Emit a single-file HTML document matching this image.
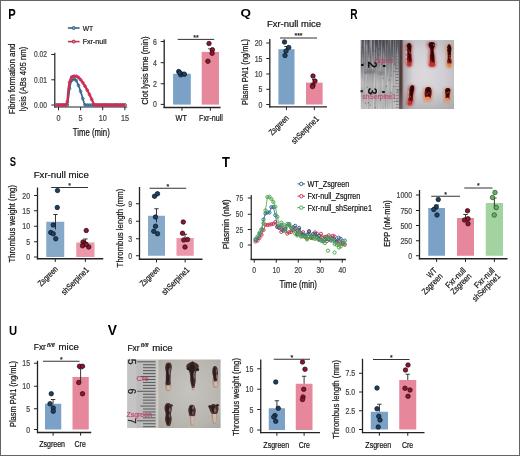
<!DOCTYPE html>
<html><head><meta charset="utf-8"><title>Figure</title><style>
html,body{margin:0;padding:0;background:#fff;}
body{width:520px;height:456px;overflow:hidden;}
svg{display:block;will-change:transform;}
text{font-family:"Liberation Sans",sans-serif;}
</style></head><body>
<svg width="520" height="456" viewBox="0 0 520 456">
<rect x="0" y="0" width="520" height="456" fill="#fff"/>
<text x="8.3" y="18.8" font-size="14.2" font-weight="bold" fill="#000" textLength="7.47" lengthAdjust="spacingAndGlyphs">P</text>
<line x1="67.9" y1="28" x2="79.6" y2="28" stroke="#2f6390" stroke-width="1.6"/>
<circle cx="73.7" cy="28" r="1.5" fill="#8fb0d0" stroke="#2a5a86" stroke-width="1"/>
<text x="82.7" y="30.6" font-size="8" textLength="10.5" lengthAdjust="spacingAndGlyphs" stroke="#333" stroke-width="0.22">WT</text>
<line x1="67.9" y1="41.6" x2="79.6" y2="41.6" stroke="#c8334f" stroke-width="1.6"/>
<circle cx="73.7" cy="41.6" r="1.5" fill="#e08898" stroke="#a82440" stroke-width="1"/>
<text x="82.7" y="44.2" font-size="8" textLength="23.8" lengthAdjust="spacingAndGlyphs" stroke="#333" stroke-width="0.22">Fxr-null</text>
<line x1="54.8" y1="52.8" x2="54.8" y2="107.6" stroke="#222" stroke-width="1.2"/>
<line x1="54.2" y1="107" x2="127.2" y2="107" stroke="#222" stroke-width="1.2"/>
<line x1="51.3" y1="54.5" x2="54.8" y2="54.5" stroke="#222" stroke-width="1"/>
<text x="46.9" y="57.4" font-size="8.5" text-anchor="end" fill="#444" textLength="12.8" lengthAdjust="spacingAndGlyphs" stroke="#444" stroke-width="0.22">0.02</text>
<line x1="51.3" y1="79.8" x2="54.8" y2="79.8" stroke="#222" stroke-width="1"/>
<text x="46.9" y="82.7" font-size="8.5" text-anchor="end" fill="#444" textLength="12.8" lengthAdjust="spacingAndGlyphs" stroke="#444" stroke-width="0.22">0.01</text>
<line x1="51.3" y1="105" x2="54.8" y2="105" stroke="#222" stroke-width="1"/>
<text x="46.9" y="107.9" font-size="8.5" text-anchor="end" fill="#444" textLength="12.8" lengthAdjust="spacingAndGlyphs" stroke="#444" stroke-width="0.22">0.00</text>
<line x1="58.5" y1="107" x2="58.5" y2="110.2" stroke="#222" stroke-width="1"/>
<text x="58.5" y="121.4" font-size="8.5" text-anchor="middle" fill="#444" textLength="4.02" lengthAdjust="spacingAndGlyphs" stroke="#444" stroke-width="0.22">0</text>
<line x1="80.6" y1="107" x2="80.6" y2="110.2" stroke="#222" stroke-width="1"/>
<text x="80.6" y="121.4" font-size="8.5" text-anchor="middle" fill="#444" textLength="4.02" lengthAdjust="spacingAndGlyphs" stroke="#444" stroke-width="0.22">5</text>
<line x1="102.7" y1="107" x2="102.7" y2="110.2" stroke="#222" stroke-width="1"/>
<text x="102.7" y="121.4" font-size="8.5" text-anchor="middle" fill="#444" textLength="8.04" lengthAdjust="spacingAndGlyphs" stroke="#444" stroke-width="0.22">10</text>
<line x1="124.9" y1="107" x2="124.9" y2="110.2" stroke="#222" stroke-width="1"/>
<text x="124.9" y="121.4" font-size="8.5" text-anchor="middle" fill="#444" textLength="8.04" lengthAdjust="spacingAndGlyphs" stroke="#444" stroke-width="0.22">15</text>
<text x="91.3" y="135.6" font-size="10" text-anchor="middle" textLength="37" lengthAdjust="spacingAndGlyphs" stroke="#333" stroke-width="0.22">Time (min)</text>
<text x="0" y="0" font-size="9" text-anchor="middle" textLength="70.6" lengthAdjust="spacingAndGlyphs" transform="translate(15.3 79) rotate(-90)" stroke="#333" stroke-width="0.22">Fibrin formation and</text>
<text x="0" y="0" font-size="9" text-anchor="middle" textLength="64.5" lengthAdjust="spacingAndGlyphs" transform="translate(25.5 79) rotate(-90)" stroke="#333" stroke-width="0.22">lysis (ABs 405 nm)</text>
<path d="M56.29 105 L57.39 105 L58.5 105 L59.61 105 L60.71 105 L61.82 105 L62.93 105 L64.03 105 L65.14 105 L66.25 105 L67.35 105 L68.46 97.42 L69.57 88.49 L70.67 83.19 L71.78 80.43 L72.89 79.3 L73.99 79.01 L75.1 79.12 L76.21 80.59 L77.31 82.73 L78.42 85.3 L79.53 88.23 L80.63 91.44 L81.74 94.92 L82.85 98.63 L83.95 102.55 L85.06 105 L86.17 105 L87.27 105 L88.38 105 L89.49 105 L90.59 105 L91.7 105 L92.81 105 L93.91 105 L95.02 105 L96.13 105 L97.23 105 L98.34 105 L99.45 105 L100.55 105 L101.66 105 L102.77 105 L103.87 105 L104.98 105 L106.09 105 L107.19 105 L108.3 105 L109.41 105 L110.51 105 L111.62 105 L112.73 105 L113.83 105 L114.94 105 L116.05 105 L117.15 105 L118.26 105 L119.37 105 L120.47 105 L121.58 105 L122.69 105 L123.79 105 L124.9 105" fill="none" stroke="#2f6390" stroke-width="1.7" stroke-linejoin="round"/>
<circle cx="56.29" cy="105" r="1.4" fill="none" stroke="#2f6390" stroke-width="0.8"/>
<circle cx="58.5" cy="105" r="1.4" fill="none" stroke="#2f6390" stroke-width="0.8"/>
<circle cx="60.71" cy="105" r="1.4" fill="none" stroke="#2f6390" stroke-width="0.8"/>
<circle cx="62.93" cy="105" r="1.4" fill="none" stroke="#2f6390" stroke-width="0.8"/>
<circle cx="65.14" cy="105" r="1.4" fill="none" stroke="#2f6390" stroke-width="0.8"/>
<circle cx="67.35" cy="105" r="1.4" fill="none" stroke="#2f6390" stroke-width="0.8"/>
<circle cx="69.57" cy="88.49" r="1.4" fill="none" stroke="#2f6390" stroke-width="0.8"/>
<circle cx="71.78" cy="80.43" r="1.4" fill="none" stroke="#2f6390" stroke-width="0.8"/>
<circle cx="73.99" cy="79.01" r="1.4" fill="none" stroke="#2f6390" stroke-width="0.8"/>
<circle cx="76.21" cy="80.59" r="1.4" fill="none" stroke="#2f6390" stroke-width="0.8"/>
<circle cx="78.42" cy="85.3" r="1.4" fill="none" stroke="#2f6390" stroke-width="0.8"/>
<circle cx="80.63" cy="91.44" r="1.4" fill="none" stroke="#2f6390" stroke-width="0.8"/>
<circle cx="82.85" cy="98.63" r="1.4" fill="none" stroke="#2f6390" stroke-width="0.8"/>
<circle cx="85.06" cy="105" r="1.4" fill="none" stroke="#2f6390" stroke-width="0.8"/>
<circle cx="87.27" cy="105" r="1.4" fill="none" stroke="#2f6390" stroke-width="0.8"/>
<circle cx="89.49" cy="105" r="1.4" fill="none" stroke="#2f6390" stroke-width="0.8"/>
<circle cx="91.7" cy="105" r="1.4" fill="none" stroke="#2f6390" stroke-width="0.8"/>
<circle cx="93.91" cy="105" r="1.4" fill="none" stroke="#2f6390" stroke-width="0.8"/>
<circle cx="96.13" cy="105" r="1.4" fill="none" stroke="#2f6390" stroke-width="0.8"/>
<circle cx="98.34" cy="105" r="1.4" fill="none" stroke="#2f6390" stroke-width="0.8"/>
<circle cx="100.55" cy="105" r="1.4" fill="none" stroke="#2f6390" stroke-width="0.8"/>
<circle cx="102.77" cy="105" r="1.4" fill="none" stroke="#2f6390" stroke-width="0.8"/>
<circle cx="104.98" cy="105" r="1.4" fill="none" stroke="#2f6390" stroke-width="0.8"/>
<circle cx="107.19" cy="105" r="1.4" fill="none" stroke="#2f6390" stroke-width="0.8"/>
<circle cx="109.41" cy="105" r="1.4" fill="none" stroke="#2f6390" stroke-width="0.8"/>
<circle cx="111.62" cy="105" r="1.4" fill="none" stroke="#2f6390" stroke-width="0.8"/>
<circle cx="113.83" cy="105" r="1.4" fill="none" stroke="#2f6390" stroke-width="0.8"/>
<circle cx="116.05" cy="105" r="1.4" fill="none" stroke="#2f6390" stroke-width="0.8"/>
<circle cx="118.26" cy="105" r="1.4" fill="none" stroke="#2f6390" stroke-width="0.8"/>
<circle cx="120.47" cy="105" r="1.4" fill="none" stroke="#2f6390" stroke-width="0.8"/>
<circle cx="122.69" cy="105" r="1.4" fill="none" stroke="#2f6390" stroke-width="0.8"/>
<circle cx="124.9" cy="105" r="1.4" fill="none" stroke="#2f6390" stroke-width="0.8"/>
<path d="M56.29 105 L57.39 105 L58.5 105 L59.61 105 L60.71 105 L61.82 105 L62.93 105 L64.03 105 L65.14 105 L66.25 105 L67.35 101.66 L68.46 89.26 L69.57 82.25 L70.67 78.64 L71.78 77.01 L72.89 76.4 L73.99 76.24 L75.1 76.22 L76.21 76.22 L77.31 76.66 L78.42 77.46 L79.53 78.51 L80.63 79.75 L81.74 81.15 L82.85 82.7 L83.95 84.39 L85.06 86.2 L86.17 88.13 L87.27 90.18 L88.38 92.32 L89.49 94.57 L90.59 96.91 L91.7 99.34 L92.81 101.86 L93.91 104.47 L95.02 105 L96.13 105 L97.23 105 L98.34 105 L99.45 105 L100.55 105 L101.66 105 L102.77 105 L103.87 105 L104.98 105 L106.09 105 L107.19 105 L108.3 105 L109.41 105 L110.51 105 L111.62 105 L112.73 105 L113.83 105 L114.94 105 L116.05 105 L117.15 105 L118.26 105 L119.37 105 L120.47 105 L121.58 105 L122.69 105 L123.79 105 L124.9 105" fill="none" stroke="#cc2f4f" stroke-width="2.3" stroke-linejoin="round"/>
<circle cx="56.29" cy="105" r="1.4" fill="none" stroke="#cc2f4f" stroke-width="0.8"/>
<circle cx="58.5" cy="105" r="1.4" fill="none" stroke="#cc2f4f" stroke-width="0.8"/>
<circle cx="60.71" cy="105" r="1.4" fill="none" stroke="#cc2f4f" stroke-width="0.8"/>
<circle cx="62.93" cy="105" r="1.4" fill="none" stroke="#cc2f4f" stroke-width="0.8"/>
<circle cx="65.14" cy="105" r="1.4" fill="none" stroke="#cc2f4f" stroke-width="0.8"/>
<circle cx="67.35" cy="101.66" r="1.4" fill="none" stroke="#cc2f4f" stroke-width="0.8"/>
<circle cx="69.57" cy="82.25" r="1.4" fill="none" stroke="#cc2f4f" stroke-width="0.8"/>
<circle cx="71.78" cy="77.01" r="1.4" fill="none" stroke="#cc2f4f" stroke-width="0.8"/>
<circle cx="73.99" cy="76.24" r="1.4" fill="none" stroke="#cc2f4f" stroke-width="0.8"/>
<circle cx="76.21" cy="76.22" r="1.4" fill="none" stroke="#cc2f4f" stroke-width="0.8"/>
<circle cx="78.42" cy="77.46" r="1.4" fill="none" stroke="#cc2f4f" stroke-width="0.8"/>
<circle cx="80.63" cy="79.75" r="1.4" fill="none" stroke="#cc2f4f" stroke-width="0.8"/>
<circle cx="82.85" cy="82.7" r="1.4" fill="none" stroke="#cc2f4f" stroke-width="0.8"/>
<circle cx="85.06" cy="86.2" r="1.4" fill="none" stroke="#cc2f4f" stroke-width="0.8"/>
<circle cx="87.27" cy="90.18" r="1.4" fill="none" stroke="#cc2f4f" stroke-width="0.8"/>
<circle cx="89.49" cy="94.57" r="1.4" fill="none" stroke="#cc2f4f" stroke-width="0.8"/>
<circle cx="91.7" cy="99.34" r="1.4" fill="none" stroke="#cc2f4f" stroke-width="0.8"/>
<circle cx="93.91" cy="104.47" r="1.4" fill="none" stroke="#cc2f4f" stroke-width="0.8"/>
<circle cx="96.13" cy="105" r="1.4" fill="none" stroke="#cc2f4f" stroke-width="0.8"/>
<circle cx="98.34" cy="105" r="1.4" fill="none" stroke="#cc2f4f" stroke-width="0.8"/>
<circle cx="100.55" cy="105" r="1.4" fill="none" stroke="#cc2f4f" stroke-width="0.8"/>
<circle cx="102.77" cy="105" r="1.4" fill="none" stroke="#cc2f4f" stroke-width="0.8"/>
<circle cx="104.98" cy="105" r="1.4" fill="none" stroke="#cc2f4f" stroke-width="0.8"/>
<circle cx="107.19" cy="105" r="1.4" fill="none" stroke="#cc2f4f" stroke-width="0.8"/>
<circle cx="109.41" cy="105" r="1.4" fill="none" stroke="#cc2f4f" stroke-width="0.8"/>
<circle cx="111.62" cy="105" r="1.4" fill="none" stroke="#cc2f4f" stroke-width="0.8"/>
<circle cx="113.83" cy="105" r="1.4" fill="none" stroke="#cc2f4f" stroke-width="0.8"/>
<circle cx="116.05" cy="105" r="1.4" fill="none" stroke="#cc2f4f" stroke-width="0.8"/>
<circle cx="118.26" cy="105" r="1.4" fill="none" stroke="#cc2f4f" stroke-width="0.8"/>
<circle cx="120.47" cy="105" r="1.4" fill="none" stroke="#cc2f4f" stroke-width="0.8"/>
<circle cx="122.69" cy="105" r="1.4" fill="none" stroke="#cc2f4f" stroke-width="0.8"/>
<circle cx="124.9" cy="105" r="1.4" fill="none" stroke="#cc2f4f" stroke-width="0.8"/>
<text x="0" y="0" font-size="9" text-anchor="middle" textLength="68.5" lengthAdjust="spacingAndGlyphs" transform="translate(147.8 70.6) rotate(-90)" stroke="#333" stroke-width="0.22">Clot lysis time (min)</text>
<line x1="164.2" y1="39.4" x2="164.2" y2="108.1" stroke="#222" stroke-width="1.3"/>
<line x1="163.6" y1="107.5" x2="220.6" y2="107.5" stroke="#222" stroke-width="1.3"/>
<line x1="160.7" y1="41.5" x2="164.2" y2="41.5" stroke="#222" stroke-width="1"/>
<text x="156.8" y="44.56" font-size="8.5" text-anchor="end" fill="#444" textLength="3.88" lengthAdjust="spacingAndGlyphs" stroke="#444" stroke-width="0.22">6</text>
<line x1="160.7" y1="62.7" x2="164.2" y2="62.7" stroke="#222" stroke-width="1"/>
<text x="156.8" y="65.76" font-size="8.5" text-anchor="end" fill="#444" textLength="3.88" lengthAdjust="spacingAndGlyphs" stroke="#444" stroke-width="0.22">4</text>
<line x1="160.7" y1="83.75" x2="164.2" y2="83.75" stroke="#222" stroke-width="1"/>
<text x="156.8" y="86.81" font-size="8.5" text-anchor="end" fill="#444" textLength="3.88" lengthAdjust="spacingAndGlyphs" stroke="#444" stroke-width="0.22">2</text>
<line x1="160.7" y1="104.4" x2="164.2" y2="104.4" stroke="#222" stroke-width="1"/>
<text x="156.8" y="107.46" font-size="8.5" text-anchor="end" fill="#444" textLength="3.88" lengthAdjust="spacingAndGlyphs" stroke="#444" stroke-width="0.22">0</text>
<rect x="173.1" y="73.75" width="17.7" height="30.85" fill="#7ba1c6"/>
<line x1="181.95" y1="107.5" x2="181.95" y2="110.7" stroke="#222" stroke-width="1"/>
<rect x="201.7" y="51.9" width="17.3" height="52.7" fill="#e6879c"/>
<line x1="210.35" y1="107.5" x2="210.35" y2="110.7" stroke="#222" stroke-width="1"/>
<line x1="210.4" y1="48.8" x2="210.4" y2="51.9" stroke="#222" stroke-width="0.9"/>
<line x1="208.2" y1="48.8" x2="212.6" y2="48.8" stroke="#222" stroke-width="0.9"/>
<line x1="181.9" y1="72.3" x2="181.9" y2="73.75" stroke="#222" stroke-width="0.9"/>
<line x1="179.7" y1="72.3" x2="184.1" y2="72.3" stroke="#222" stroke-width="0.9"/>
<circle cx="178.7" cy="71.6" r="2.25" fill="#1a4066" stroke="#111" stroke-width="0.7"/>
<circle cx="180.8" cy="74.8" r="2.25" fill="#1a4066" stroke="#111" stroke-width="0.7"/>
<circle cx="184.4" cy="74.2" r="2.25" fill="#1a4066" stroke="#111" stroke-width="0.7"/>
<circle cx="179.8" cy="72.7" r="2.25" fill="#1a4066" stroke="#111" stroke-width="0.7"/>
<circle cx="209" cy="43.5" r="2.25" fill="#99102d" stroke="#111" stroke-width="0.7"/>
<circle cx="212.4" cy="49.8" r="2.25" fill="#99102d" stroke="#111" stroke-width="0.7"/>
<circle cx="212.1" cy="53.3" r="2.25" fill="#99102d" stroke="#111" stroke-width="0.7"/>
<circle cx="207.9" cy="61.2" r="2.25" fill="#99102d" stroke="#111" stroke-width="0.7"/>
<line x1="177.7" y1="39.4" x2="214.2" y2="39.4" stroke="#333" stroke-width="1"/>
<text x="195.95" y="39.7" font-size="7" text-anchor="middle" stroke="#333" stroke-width="0.22">**</text>
<text x="181.2" y="121.4" font-size="8.5" text-anchor="middle" textLength="11.4" lengthAdjust="spacingAndGlyphs" stroke="#333" stroke-width="0.22">WT</text>
<text x="211" y="121.4" font-size="8.5" text-anchor="middle" textLength="23.8" lengthAdjust="spacingAndGlyphs" stroke="#333" stroke-width="0.22">Fxr-null</text>
<text x="240.5" y="16.67" font-size="10.67" font-weight="bold" fill="#000" textLength="10.47" lengthAdjust="spacingAndGlyphs">Q</text>
<text x="294" y="27.2" font-size="9.5" text-anchor="middle" textLength="54" lengthAdjust="spacingAndGlyphs" stroke="#333" stroke-width="0.22">Fxr-null mice</text>
<text x="0" y="0" font-size="9" text-anchor="middle" textLength="66" lengthAdjust="spacingAndGlyphs" transform="translate(248.2 72) rotate(-90)" stroke="#333" stroke-width="0.22">Plasm PAI1 (ng/mL)</text>
<line x1="269.8" y1="39" x2="269.8" y2="107.5" stroke="#222" stroke-width="1.3"/>
<line x1="269.2" y1="106.9" x2="327" y2="106.9" stroke="#222" stroke-width="1.3"/>
<line x1="266.3" y1="43" x2="269.8" y2="43" stroke="#222" stroke-width="1"/>
<text x="262.4" y="46.06" font-size="8.5" text-anchor="end" fill="#444" textLength="7.75" lengthAdjust="spacingAndGlyphs" stroke="#444" stroke-width="0.22">20</text>
<line x1="266.3" y1="58.5" x2="269.8" y2="58.5" stroke="#222" stroke-width="1"/>
<text x="262.4" y="61.56" font-size="8.5" text-anchor="end" fill="#444" textLength="7.75" lengthAdjust="spacingAndGlyphs" stroke="#444" stroke-width="0.22">15</text>
<line x1="266.3" y1="74" x2="269.8" y2="74" stroke="#222" stroke-width="1"/>
<text x="262.4" y="77.06" font-size="8.5" text-anchor="end" fill="#444" textLength="7.75" lengthAdjust="spacingAndGlyphs" stroke="#444" stroke-width="0.22">10</text>
<line x1="266.3" y1="89.3" x2="269.8" y2="89.3" stroke="#222" stroke-width="1"/>
<text x="262.4" y="92.36" font-size="8.5" text-anchor="end" fill="#444" textLength="3.88" lengthAdjust="spacingAndGlyphs" stroke="#444" stroke-width="0.22">5</text>
<line x1="266.3" y1="104.5" x2="269.8" y2="104.5" stroke="#222" stroke-width="1"/>
<text x="262.4" y="107.56" font-size="8.5" text-anchor="end" fill="#444" textLength="3.88" lengthAdjust="spacingAndGlyphs" stroke="#444" stroke-width="0.22">0</text>
<rect x="278.4" y="49.2" width="16.1" height="55.3" fill="#7ba1c6"/>
<line x1="286.45" y1="106.9" x2="286.45" y2="110.1" stroke="#222" stroke-width="1"/>
<rect x="306" y="82.6" width="16.6" height="21.9" fill="#e6879c"/>
<line x1="314.3" y1="106.9" x2="314.3" y2="110.1" stroke="#222" stroke-width="1"/>
<line x1="286.5" y1="46.5" x2="286.5" y2="49.2" stroke="#222" stroke-width="0.9"/>
<line x1="284.3" y1="46.5" x2="288.7" y2="46.5" stroke="#222" stroke-width="0.9"/>
<line x1="314.3" y1="79.5" x2="314.3" y2="82.6" stroke="#222" stroke-width="0.9"/>
<line x1="312.1" y1="79.5" x2="316.5" y2="79.5" stroke="#222" stroke-width="0.9"/>
<circle cx="284.5" cy="42" r="2.25" fill="#1a4066" stroke="#111" stroke-width="0.7"/>
<circle cx="288.75" cy="47.5" r="2.25" fill="#1a4066" stroke="#111" stroke-width="0.7"/>
<circle cx="286" cy="51" r="2.25" fill="#1a4066" stroke="#111" stroke-width="0.7"/>
<circle cx="285" cy="55.5" r="2.25" fill="#1a4066" stroke="#111" stroke-width="0.7"/>
<circle cx="313" cy="76" r="2.25" fill="#99102d" stroke="#111" stroke-width="0.7"/>
<circle cx="315" cy="81" r="2.25" fill="#99102d" stroke="#111" stroke-width="0.7"/>
<circle cx="313" cy="85" r="2.25" fill="#99102d" stroke="#111" stroke-width="0.7"/>
<circle cx="312.5" cy="86.5" r="2.25" fill="#99102d" stroke="#111" stroke-width="0.7"/>
<line x1="280" y1="38" x2="317" y2="38" stroke="#333" stroke-width="1"/>
<text x="298.5" y="38.3" font-size="7" text-anchor="middle" stroke="#333" stroke-width="0.22">***</text>
<text x="0" y="0" font-size="8.5" text-anchor="end" textLength="24.5" lengthAdjust="spacingAndGlyphs" transform="translate(289.5 118.5) rotate(-45)" stroke="#333" stroke-width="0.22">Zsgreen</text>
<text x="0" y="0" font-size="8.5" text-anchor="end" textLength="35.5" lengthAdjust="spacingAndGlyphs" transform="translate(319.5 119.5) rotate(-45)" stroke="#333" stroke-width="0.22">shSerpine1</text>
<text x="350.2" y="18.7" font-size="13.77" font-weight="bold" fill="#000" textLength="7.32" lengthAdjust="spacingAndGlyphs">R</text>
<text x="9.8" y="166.07" font-size="13.1" font-weight="bold" fill="#000" textLength="6.27" lengthAdjust="spacingAndGlyphs">S</text>
<text x="61.25" y="178.3" font-size="9.5" text-anchor="middle" textLength="55" lengthAdjust="spacingAndGlyphs" stroke="#333" stroke-width="0.22">Fxr-null mice</text>
<text x="0" y="0" font-size="9" text-anchor="middle" textLength="77.5" lengthAdjust="spacingAndGlyphs" transform="translate(14.8 223.75) rotate(-90)" stroke="#333" stroke-width="0.22">Thrombus weight (mg)</text>
<line x1="37.5" y1="187.5" x2="37.5" y2="259.35" stroke="#222" stroke-width="1.3"/>
<line x1="36.9" y1="258.75" x2="103.25" y2="258.75" stroke="#222" stroke-width="1.3"/>
<line x1="34" y1="195.5" x2="37.5" y2="195.5" stroke="#222" stroke-width="1"/>
<text x="30.1" y="198.56" font-size="8.5" text-anchor="end" fill="#444" textLength="7.75" lengthAdjust="spacingAndGlyphs" stroke="#444" stroke-width="0.22">20</text>
<line x1="34" y1="210.75" x2="37.5" y2="210.75" stroke="#222" stroke-width="1"/>
<text x="30.1" y="213.81" font-size="8.5" text-anchor="end" fill="#444" textLength="7.75" lengthAdjust="spacingAndGlyphs" stroke="#444" stroke-width="0.22">15</text>
<line x1="34" y1="226.25" x2="37.5" y2="226.25" stroke="#222" stroke-width="1"/>
<text x="30.1" y="229.31" font-size="8.5" text-anchor="end" fill="#444" textLength="7.75" lengthAdjust="spacingAndGlyphs" stroke="#444" stroke-width="0.22">10</text>
<line x1="34" y1="241.75" x2="37.5" y2="241.75" stroke="#222" stroke-width="1"/>
<text x="30.1" y="244.81" font-size="8.5" text-anchor="end" fill="#444" textLength="3.88" lengthAdjust="spacingAndGlyphs" stroke="#444" stroke-width="0.22">5</text>
<line x1="34" y1="257" x2="37.5" y2="257" stroke="#222" stroke-width="1"/>
<text x="30.1" y="260.06" font-size="8.5" text-anchor="end" fill="#444" textLength="3.88" lengthAdjust="spacingAndGlyphs" stroke="#444" stroke-width="0.22">0</text>
<rect x="46.25" y="221.75" width="18" height="35.25" fill="#86a9ca"/>
<line x1="55.25" y1="258.75" x2="55.25" y2="261.95" stroke="#222" stroke-width="1"/>
<rect x="76.25" y="242.5" width="18.25" height="14.5" fill="#ea98aa"/>
<line x1="85.38" y1="258.75" x2="85.38" y2="261.95" stroke="#222" stroke-width="1"/>
<line x1="55.5" y1="214.5" x2="55.5" y2="229.5" stroke="#222" stroke-width="0.9"/>
<line x1="53.3" y1="214.5" x2="57.7" y2="214.5" stroke="#222" stroke-width="0.9"/>
<line x1="85.4" y1="239" x2="85.4" y2="242.5" stroke="#222" stroke-width="0.9"/>
<line x1="83.2" y1="239" x2="87.6" y2="239" stroke="#222" stroke-width="0.9"/>
<circle cx="57.5" cy="190.5" r="2.25" fill="#1a4066" stroke="#111" stroke-width="0.7"/>
<circle cx="57.25" cy="207.5" r="2.25" fill="#1a4066" stroke="#111" stroke-width="0.7"/>
<circle cx="53.25" cy="225" r="2.25" fill="#1a4066" stroke="#111" stroke-width="0.7"/>
<circle cx="50.75" cy="232.5" r="2.25" fill="#1a4066" stroke="#111" stroke-width="0.7"/>
<circle cx="53.25" cy="233.75" r="2.25" fill="#1a4066" stroke="#111" stroke-width="0.7"/>
<circle cx="55.75" cy="238.75" r="2.25" fill="#1a4066" stroke="#111" stroke-width="0.7"/>
<circle cx="86.25" cy="230.5" r="2.25" fill="#99102d" stroke="#111" stroke-width="0.7"/>
<circle cx="83" cy="242" r="2.25" fill="#99102d" stroke="#111" stroke-width="0.7"/>
<circle cx="85" cy="243.75" r="2.25" fill="#99102d" stroke="#111" stroke-width="0.7"/>
<circle cx="82.5" cy="245.75" r="2.25" fill="#99102d" stroke="#111" stroke-width="0.7"/>
<circle cx="88.75" cy="247" r="2.25" fill="#99102d" stroke="#111" stroke-width="0.7"/>
<circle cx="86.25" cy="244.5" r="2.25" fill="#99102d" stroke="#111" stroke-width="0.7"/>
<line x1="51.25" y1="187.5" x2="88" y2="187.5" stroke="#333" stroke-width="1"/>
<text x="69.62" y="187.8" font-size="7" text-anchor="middle" stroke="#333" stroke-width="0.22">*</text>
<text x="0" y="0" font-size="8.5" text-anchor="end" textLength="24.5" lengthAdjust="spacingAndGlyphs" transform="translate(58.5 269.5) rotate(-45)" stroke="#333" stroke-width="0.22">Zsgreen</text>
<text x="0" y="0" font-size="8.5" text-anchor="end" textLength="35.5" lengthAdjust="spacingAndGlyphs" transform="translate(89.5 270.5) rotate(-45)" stroke="#333" stroke-width="0.22">shSerpine1</text>
<text x="0" y="0" font-size="9" text-anchor="middle" textLength="78.75" lengthAdjust="spacingAndGlyphs" transform="translate(122.8 228) rotate(-90)" stroke="#333" stroke-width="0.22">Thrombus length (mm)</text>
<line x1="139.5" y1="187" x2="139.5" y2="259.85" stroke="#222" stroke-width="1.3"/>
<line x1="138.9" y1="259.25" x2="202.5" y2="259.25" stroke="#222" stroke-width="1.3"/>
<line x1="136" y1="203.75" x2="139.5" y2="203.75" stroke="#222" stroke-width="1"/>
<text x="132.1" y="206.81" font-size="8.5" text-anchor="end" fill="#444" textLength="3.88" lengthAdjust="spacingAndGlyphs" stroke="#444" stroke-width="0.22">9</text>
<line x1="136" y1="221.25" x2="139.5" y2="221.25" stroke="#222" stroke-width="1"/>
<text x="132.1" y="224.31" font-size="8.5" text-anchor="end" fill="#444" textLength="3.88" lengthAdjust="spacingAndGlyphs" stroke="#444" stroke-width="0.22">6</text>
<line x1="136" y1="238.75" x2="139.5" y2="238.75" stroke="#222" stroke-width="1"/>
<text x="132.1" y="241.81" font-size="8.5" text-anchor="end" fill="#444" textLength="3.88" lengthAdjust="spacingAndGlyphs" stroke="#444" stroke-width="0.22">3</text>
<line x1="136" y1="255.75" x2="139.5" y2="255.75" stroke="#222" stroke-width="1"/>
<text x="132.1" y="258.81" font-size="8.5" text-anchor="end" fill="#444" textLength="3.88" lengthAdjust="spacingAndGlyphs" stroke="#444" stroke-width="0.22">0</text>
<rect x="148" y="215.75" width="17" height="40" fill="#86a9ca"/>
<line x1="156.5" y1="259.25" x2="156.5" y2="262.45" stroke="#222" stroke-width="1"/>
<rect x="176.5" y="238" width="17.25" height="17.75" fill="#ea98aa"/>
<line x1="185.12" y1="259.25" x2="185.12" y2="262.45" stroke="#222" stroke-width="1"/>
<line x1="156.5" y1="208.75" x2="156.5" y2="222.5" stroke="#222" stroke-width="0.9"/>
<line x1="154.3" y1="208.75" x2="158.7" y2="208.75" stroke="#222" stroke-width="0.9"/>
<line x1="185" y1="234.25" x2="185" y2="238" stroke="#222" stroke-width="0.9"/>
<line x1="182.8" y1="234.25" x2="187.2" y2="234.25" stroke="#222" stroke-width="0.9"/>
<circle cx="154.5" cy="196.25" r="2.25" fill="#1a4066" stroke="#111" stroke-width="0.7"/>
<circle cx="157.5" cy="193.75" r="2.25" fill="#1a4066" stroke="#111" stroke-width="0.7"/>
<circle cx="155.5" cy="217" r="2.25" fill="#1a4066" stroke="#111" stroke-width="0.7"/>
<circle cx="155.5" cy="226.25" r="2.25" fill="#1a4066" stroke="#111" stroke-width="0.7"/>
<circle cx="153.75" cy="231.25" r="2.25" fill="#1a4066" stroke="#111" stroke-width="0.7"/>
<circle cx="157.5" cy="233.75" r="2.25" fill="#1a4066" stroke="#111" stroke-width="0.7"/>
<circle cx="183.25" cy="222" r="2.25" fill="#99102d" stroke="#111" stroke-width="0.7"/>
<circle cx="182.5" cy="233.25" r="2.25" fill="#99102d" stroke="#111" stroke-width="0.7"/>
<circle cx="187.5" cy="239.5" r="2.25" fill="#99102d" stroke="#111" stroke-width="0.7"/>
<circle cx="183.75" cy="240" r="2.25" fill="#99102d" stroke="#111" stroke-width="0.7"/>
<circle cx="185" cy="247" r="2.25" fill="#99102d" stroke="#111" stroke-width="0.7"/>
<line x1="149.5" y1="188.25" x2="186.25" y2="188.25" stroke="#333" stroke-width="1"/>
<text x="167.88" y="188.55" font-size="7" text-anchor="middle" stroke="#333" stroke-width="0.22">*</text>
<text x="0" y="0" font-size="8.5" text-anchor="end" textLength="24.5" lengthAdjust="spacingAndGlyphs" transform="translate(160.5 269.5) rotate(-45)" stroke="#333" stroke-width="0.22">Zsgreen</text>
<text x="0" y="0" font-size="8.5" text-anchor="end" textLength="35.5" lengthAdjust="spacingAndGlyphs" transform="translate(190 270.5) rotate(-45)" stroke="#333" stroke-width="0.22">shSerpine1</text>
<text x="222" y="166.6" font-size="13.91" font-weight="bold" fill="#000" textLength="7.91" lengthAdjust="spacingAndGlyphs">T</text>
<text x="0" y="0" font-size="9.5" text-anchor="middle" textLength="50" lengthAdjust="spacingAndGlyphs" transform="translate(229.2 224.3) rotate(-90)" stroke="#333" stroke-width="0.22">Plasmin (nM)</text>
<line x1="251.25" y1="195" x2="251.25" y2="260.1" stroke="#222" stroke-width="1.2"/>
<line x1="250.65" y1="259.5" x2="346" y2="259.5" stroke="#222" stroke-width="1.3"/>
<line x1="247.75" y1="198" x2="251.25" y2="198" stroke="#222" stroke-width="1"/>
<text x="243" y="201.1" font-size="8.5" text-anchor="end" fill="#444" textLength="7.18" lengthAdjust="spacingAndGlyphs" stroke="#444" stroke-width="0.22">75</text>
<line x1="247.75" y1="214.25" x2="251.25" y2="214.25" stroke="#222" stroke-width="1"/>
<text x="243" y="217.35" font-size="8.5" text-anchor="end" fill="#444" textLength="7.18" lengthAdjust="spacingAndGlyphs" stroke="#444" stroke-width="0.22">50</text>
<line x1="247.75" y1="229.5" x2="251.25" y2="229.5" stroke="#222" stroke-width="1"/>
<text x="243" y="232.6" font-size="8.5" text-anchor="end" fill="#444" textLength="7.18" lengthAdjust="spacingAndGlyphs" stroke="#444" stroke-width="0.22">25</text>
<line x1="247.75" y1="245" x2="251.25" y2="245" stroke="#222" stroke-width="1"/>
<text x="243" y="248.1" font-size="8.5" text-anchor="end" fill="#444" textLength="3.59" lengthAdjust="spacingAndGlyphs" stroke="#444" stroke-width="0.22">0</text>
<line x1="254.25" y1="259.5" x2="254.25" y2="262.7" stroke="#222" stroke-width="1"/>
<text x="254.25" y="273.2" font-size="8.5" text-anchor="middle" fill="#444" textLength="3.78" lengthAdjust="spacingAndGlyphs" stroke="#444" stroke-width="0.22">0</text>
<line x1="276.25" y1="259.5" x2="276.25" y2="262.7" stroke="#222" stroke-width="1"/>
<text x="276.25" y="273.2" font-size="8.5" text-anchor="middle" fill="#444" textLength="7.56" lengthAdjust="spacingAndGlyphs" stroke="#444" stroke-width="0.22">10</text>
<line x1="298.25" y1="259.5" x2="298.25" y2="262.7" stroke="#222" stroke-width="1"/>
<text x="298.25" y="273.2" font-size="8.5" text-anchor="middle" fill="#444" textLength="7.56" lengthAdjust="spacingAndGlyphs" stroke="#444" stroke-width="0.22">20</text>
<line x1="320.25" y1="259.5" x2="320.25" y2="262.7" stroke="#222" stroke-width="1"/>
<text x="320.25" y="273.2" font-size="8.5" text-anchor="middle" fill="#444" textLength="7.56" lengthAdjust="spacingAndGlyphs" stroke="#444" stroke-width="0.22">30</text>
<line x1="342.25" y1="259.5" x2="342.25" y2="262.7" stroke="#222" stroke-width="1"/>
<text x="342.25" y="273.2" font-size="8.5" text-anchor="middle" fill="#444" textLength="7.56" lengthAdjust="spacingAndGlyphs" stroke="#444" stroke-width="0.22">40</text>
<text x="298.25" y="287.5" font-size="10" text-anchor="middle" textLength="37.5" lengthAdjust="spacingAndGlyphs" stroke="#333" stroke-width="0.22">Time (min)</text>
<line x1="297.5" y1="183.9" x2="305" y2="183.9" stroke="#2f6390" stroke-width="1"/>
<circle cx="301.3" cy="183.9" r="1.7" fill="#fff" stroke="#2f6390" stroke-width="1"/>
<text x="307.4" y="187.1" font-size="9" textLength="42" lengthAdjust="spacingAndGlyphs" stroke="#333" stroke-width="0.22">WT_Zsgreen</text>
<line x1="297.5" y1="196.2" x2="305" y2="196.2" stroke="#c8334f" stroke-width="1"/>
<circle cx="301.3" cy="196.2" r="1.7" fill="#fff" stroke="#c8334f" stroke-width="1"/>
<text x="307.4" y="199.4" font-size="9" textLength="53" lengthAdjust="spacingAndGlyphs" stroke="#333" stroke-width="0.22">Fxr-null_Zsgrren</text>
<line x1="297.5" y1="207.6" x2="305" y2="207.6" stroke="#4aa34a" stroke-width="1"/>
<circle cx="301.3" cy="207.6" r="1.7" fill="#fff" stroke="#4aa34a" stroke-width="1"/>
<text x="307.4" y="210.8" font-size="9" textLength="64.5" lengthAdjust="spacingAndGlyphs" stroke="#333" stroke-width="0.22">Fxr-null_shSerpine1</text>
<path d="M255.57 241.55 L257.55 240.49 L259.53 237.96 L261.51 234.88 L263.49 230.05 L265.47 224.72 L267.45 225 L269.43 224.62 L271.41 224.22 L273.39 223.93 L275.37 222.11 L277.35 227.11 L279.33 227.96 L281.31 231.93 L283.29 229.23 L285.27 228.76 L287.25 233.61 L289.23 232.24 L291.21 232.01 L293.19 227.1 L295.17 228.8 L297.15 234.3 L299.13 229.67 L301.11 235.6 L303.09 232.26 L305.07 236.82 L307.05 238.41 L309.03 231.88 L311.01 237.84 L312.99 238.25 L314.97 232.42 L316.95 233.74 L318.93 238.91 L320.91 233.83 L322.89 237.61 L324.87 236.82 L326.85 241.01 L328.83 235.35 L330.81 237.73 L332.79 235.78 L334.77 236.65 L336.75 241.78 L338.73 241.56 L340.71 243.43 L342.69 243.88 L344.67 244.78" fill="none" stroke="#c8334f" stroke-width="0.9" stroke-linejoin="round" opacity="0.9"/>
<circle cx="255.57" cy="241.55" r="1.6" fill="none" stroke="#c8334f" stroke-width="0.95"/>
<circle cx="257.55" cy="240.49" r="1.6" fill="none" stroke="#c8334f" stroke-width="0.95"/>
<circle cx="259.53" cy="237.96" r="1.6" fill="none" stroke="#c8334f" stroke-width="0.95"/>
<circle cx="261.51" cy="234.88" r="1.6" fill="none" stroke="#c8334f" stroke-width="0.95"/>
<circle cx="263.49" cy="230.05" r="1.6" fill="none" stroke="#c8334f" stroke-width="0.95"/>
<circle cx="265.47" cy="224.72" r="1.6" fill="none" stroke="#c8334f" stroke-width="0.95"/>
<circle cx="267.45" cy="225" r="1.6" fill="none" stroke="#c8334f" stroke-width="0.95"/>
<circle cx="269.43" cy="224.62" r="1.6" fill="none" stroke="#c8334f" stroke-width="0.95"/>
<circle cx="271.41" cy="224.22" r="1.6" fill="none" stroke="#c8334f" stroke-width="0.95"/>
<circle cx="273.39" cy="223.93" r="1.6" fill="none" stroke="#c8334f" stroke-width="0.95"/>
<circle cx="275.37" cy="222.11" r="1.6" fill="none" stroke="#c8334f" stroke-width="0.95"/>
<circle cx="277.35" cy="227.11" r="1.6" fill="none" stroke="#c8334f" stroke-width="0.95"/>
<circle cx="279.33" cy="227.96" r="1.6" fill="none" stroke="#c8334f" stroke-width="0.95"/>
<circle cx="281.31" cy="231.93" r="1.6" fill="none" stroke="#c8334f" stroke-width="0.95"/>
<circle cx="283.29" cy="229.23" r="1.6" fill="none" stroke="#c8334f" stroke-width="0.95"/>
<circle cx="285.27" cy="228.76" r="1.6" fill="none" stroke="#c8334f" stroke-width="0.95"/>
<circle cx="287.25" cy="233.61" r="1.6" fill="none" stroke="#c8334f" stroke-width="0.95"/>
<circle cx="289.23" cy="232.24" r="1.6" fill="none" stroke="#c8334f" stroke-width="0.95"/>
<circle cx="291.21" cy="232.01" r="1.6" fill="none" stroke="#c8334f" stroke-width="0.95"/>
<circle cx="293.19" cy="227.1" r="1.6" fill="none" stroke="#c8334f" stroke-width="0.95"/>
<circle cx="295.17" cy="228.8" r="1.6" fill="none" stroke="#c8334f" stroke-width="0.95"/>
<circle cx="297.15" cy="234.3" r="1.6" fill="none" stroke="#c8334f" stroke-width="0.95"/>
<circle cx="299.13" cy="229.67" r="1.6" fill="none" stroke="#c8334f" stroke-width="0.95"/>
<circle cx="301.11" cy="235.6" r="1.6" fill="none" stroke="#c8334f" stroke-width="0.95"/>
<circle cx="303.09" cy="232.26" r="1.6" fill="none" stroke="#c8334f" stroke-width="0.95"/>
<circle cx="305.07" cy="236.82" r="1.6" fill="none" stroke="#c8334f" stroke-width="0.95"/>
<circle cx="307.05" cy="238.41" r="1.6" fill="none" stroke="#c8334f" stroke-width="0.95"/>
<circle cx="309.03" cy="231.88" r="1.6" fill="none" stroke="#c8334f" stroke-width="0.95"/>
<circle cx="311.01" cy="237.84" r="1.6" fill="none" stroke="#c8334f" stroke-width="0.95"/>
<circle cx="312.99" cy="238.25" r="1.6" fill="none" stroke="#c8334f" stroke-width="0.95"/>
<circle cx="314.97" cy="232.42" r="1.6" fill="none" stroke="#c8334f" stroke-width="0.95"/>
<circle cx="316.95" cy="233.74" r="1.6" fill="none" stroke="#c8334f" stroke-width="0.95"/>
<circle cx="318.93" cy="238.91" r="1.6" fill="none" stroke="#c8334f" stroke-width="0.95"/>
<circle cx="320.91" cy="233.83" r="1.6" fill="none" stroke="#c8334f" stroke-width="0.95"/>
<circle cx="322.89" cy="237.61" r="1.6" fill="none" stroke="#c8334f" stroke-width="0.95"/>
<circle cx="324.87" cy="236.82" r="1.6" fill="none" stroke="#c8334f" stroke-width="0.95"/>
<circle cx="326.85" cy="241.01" r="1.6" fill="none" stroke="#c8334f" stroke-width="0.95"/>
<circle cx="328.83" cy="235.35" r="1.6" fill="none" stroke="#c8334f" stroke-width="0.95"/>
<circle cx="330.81" cy="237.73" r="1.6" fill="none" stroke="#c8334f" stroke-width="0.95"/>
<circle cx="332.79" cy="235.78" r="1.6" fill="none" stroke="#c8334f" stroke-width="0.95"/>
<circle cx="334.77" cy="236.65" r="1.6" fill="none" stroke="#c8334f" stroke-width="0.95"/>
<circle cx="336.75" cy="241.78" r="1.6" fill="none" stroke="#c8334f" stroke-width="0.95"/>
<circle cx="338.73" cy="241.56" r="1.6" fill="none" stroke="#c8334f" stroke-width="0.95"/>
<circle cx="340.71" cy="243.43" r="1.6" fill="none" stroke="#c8334f" stroke-width="0.95"/>
<circle cx="342.69" cy="243.88" r="1.6" fill="none" stroke="#c8334f" stroke-width="0.95"/>
<circle cx="344.67" cy="244.78" r="1.6" fill="none" stroke="#c8334f" stroke-width="0.95"/>
<path d="M255.57 239.94 L257.55 238.14 L259.53 233.81 L261.51 229.45 L263.49 219.62 L265.47 213.4 L267.45 212.44 L269.43 212.52 L271.41 207.16 L273.39 207.11 L275.37 215.23 L277.35 226.4 L279.33 227.57 L281.31 225.29 L283.29 230.64 L285.27 229.46 L287.25 225.79 L289.23 223.93 L291.21 227.7 L293.19 229.92 L295.17 225.83 L297.15 233.97 L299.13 227.92 L301.11 233.12 L303.09 234.86 L305.07 235.64 L307.05 234.65 L309.03 231.08 L311.01 236.82 L312.99 234.12 L314.97 234.22 L316.95 236.95 L318.93 236.09 L320.91 240.56 L322.89 241.01 L324.87 240.24 L326.85 236.79 L328.83 239.28 L330.81 240.5 L332.79 238.57 L334.77 239.93 L336.75 241.46 L338.73 237.76 L340.71 238.91 L342.69 242.99 L344.67 240.63" fill="none" stroke="#2f6390" stroke-width="0.9" stroke-linejoin="round" opacity="0.9"/>
<circle cx="255.57" cy="239.94" r="1.6" fill="none" stroke="#2f6390" stroke-width="0.95"/>
<circle cx="257.55" cy="238.14" r="1.6" fill="none" stroke="#2f6390" stroke-width="0.95"/>
<circle cx="259.53" cy="233.81" r="1.6" fill="none" stroke="#2f6390" stroke-width="0.95"/>
<circle cx="261.51" cy="229.45" r="1.6" fill="none" stroke="#2f6390" stroke-width="0.95"/>
<circle cx="263.49" cy="219.62" r="1.6" fill="none" stroke="#2f6390" stroke-width="0.95"/>
<circle cx="265.47" cy="213.4" r="1.6" fill="none" stroke="#2f6390" stroke-width="0.95"/>
<circle cx="267.45" cy="212.44" r="1.6" fill="none" stroke="#2f6390" stroke-width="0.95"/>
<circle cx="269.43" cy="212.52" r="1.6" fill="none" stroke="#2f6390" stroke-width="0.95"/>
<circle cx="271.41" cy="207.16" r="1.6" fill="none" stroke="#2f6390" stroke-width="0.95"/>
<circle cx="273.39" cy="207.11" r="1.6" fill="none" stroke="#2f6390" stroke-width="0.95"/>
<circle cx="275.37" cy="215.23" r="1.6" fill="none" stroke="#2f6390" stroke-width="0.95"/>
<circle cx="277.35" cy="226.4" r="1.6" fill="none" stroke="#2f6390" stroke-width="0.95"/>
<circle cx="279.33" cy="227.57" r="1.6" fill="none" stroke="#2f6390" stroke-width="0.95"/>
<circle cx="281.31" cy="225.29" r="1.6" fill="none" stroke="#2f6390" stroke-width="0.95"/>
<circle cx="283.29" cy="230.64" r="1.6" fill="none" stroke="#2f6390" stroke-width="0.95"/>
<circle cx="285.27" cy="229.46" r="1.6" fill="none" stroke="#2f6390" stroke-width="0.95"/>
<circle cx="287.25" cy="225.79" r="1.6" fill="none" stroke="#2f6390" stroke-width="0.95"/>
<circle cx="289.23" cy="223.93" r="1.6" fill="none" stroke="#2f6390" stroke-width="0.95"/>
<circle cx="291.21" cy="227.7" r="1.6" fill="none" stroke="#2f6390" stroke-width="0.95"/>
<circle cx="293.19" cy="229.92" r="1.6" fill="none" stroke="#2f6390" stroke-width="0.95"/>
<circle cx="295.17" cy="225.83" r="1.6" fill="none" stroke="#2f6390" stroke-width="0.95"/>
<circle cx="297.15" cy="233.97" r="1.6" fill="none" stroke="#2f6390" stroke-width="0.95"/>
<circle cx="299.13" cy="227.92" r="1.6" fill="none" stroke="#2f6390" stroke-width="0.95"/>
<circle cx="301.11" cy="233.12" r="1.6" fill="none" stroke="#2f6390" stroke-width="0.95"/>
<circle cx="303.09" cy="234.86" r="1.6" fill="none" stroke="#2f6390" stroke-width="0.95"/>
<circle cx="305.07" cy="235.64" r="1.6" fill="none" stroke="#2f6390" stroke-width="0.95"/>
<circle cx="307.05" cy="234.65" r="1.6" fill="none" stroke="#2f6390" stroke-width="0.95"/>
<circle cx="309.03" cy="231.08" r="1.6" fill="none" stroke="#2f6390" stroke-width="0.95"/>
<circle cx="311.01" cy="236.82" r="1.6" fill="none" stroke="#2f6390" stroke-width="0.95"/>
<circle cx="312.99" cy="234.12" r="1.6" fill="none" stroke="#2f6390" stroke-width="0.95"/>
<circle cx="314.97" cy="234.22" r="1.6" fill="none" stroke="#2f6390" stroke-width="0.95"/>
<circle cx="316.95" cy="236.95" r="1.6" fill="none" stroke="#2f6390" stroke-width="0.95"/>
<circle cx="318.93" cy="236.09" r="1.6" fill="none" stroke="#2f6390" stroke-width="0.95"/>
<circle cx="320.91" cy="240.56" r="1.6" fill="none" stroke="#2f6390" stroke-width="0.95"/>
<circle cx="322.89" cy="241.01" r="1.6" fill="none" stroke="#2f6390" stroke-width="0.95"/>
<circle cx="324.87" cy="240.24" r="1.6" fill="none" stroke="#2f6390" stroke-width="0.95"/>
<circle cx="326.85" cy="236.79" r="1.6" fill="none" stroke="#2f6390" stroke-width="0.95"/>
<circle cx="328.83" cy="239.28" r="1.6" fill="none" stroke="#2f6390" stroke-width="0.95"/>
<circle cx="330.81" cy="240.5" r="1.6" fill="none" stroke="#2f6390" stroke-width="0.95"/>
<circle cx="332.79" cy="238.57" r="1.6" fill="none" stroke="#2f6390" stroke-width="0.95"/>
<circle cx="334.77" cy="239.93" r="1.6" fill="none" stroke="#2f6390" stroke-width="0.95"/>
<circle cx="336.75" cy="241.46" r="1.6" fill="none" stroke="#2f6390" stroke-width="0.95"/>
<circle cx="338.73" cy="237.76" r="1.6" fill="none" stroke="#2f6390" stroke-width="0.95"/>
<circle cx="340.71" cy="238.91" r="1.6" fill="none" stroke="#2f6390" stroke-width="0.95"/>
<circle cx="342.69" cy="242.99" r="1.6" fill="none" stroke="#2f6390" stroke-width="0.95"/>
<circle cx="344.67" cy="240.63" r="1.6" fill="none" stroke="#2f6390" stroke-width="0.95"/>
<path d="M255.57 238.95 L257.55 236.43 L259.53 232.67 L261.51 229.59 L263.49 223.26 L265.47 210.37 L267.45 197.03 L269.43 196.65 L271.41 199.01 L273.39 202.04 L275.37 206.7 L277.35 216.83 L279.33 226.19 L281.31 222.74 L283.29 224.79 L285.27 230.85 L287.25 223.94 L289.23 224.84 L291.21 228.08 L293.19 229.1 L295.17 233.53 L297.15 235.4 L299.13 231.98 L301.11 236.65 L303.09 236.43 L305.07 236.86 L307.05 239.43 L309.03 236.74 L311.01 237.78 L312.99 235.35 L314.97 238.83 L316.95 238.45 L318.93 240.02 L320.91 239.12 L322.89 241.21 L324.87 243.08 L326.85 237.5 L328.83 237.8 L330.81 239.35 L332.79 240.71 L334.77 244.07 L336.75 244.88 L338.73 244.51 L340.71 246.41 L342.69 240.85 L344.67 243.93" fill="none" stroke="#4aa34a" stroke-width="0.9" stroke-linejoin="round" opacity="0.9"/>
<circle cx="255.57" cy="238.95" r="1.6" fill="none" stroke="#4aa34a" stroke-width="0.95"/>
<circle cx="257.55" cy="236.43" r="1.6" fill="none" stroke="#4aa34a" stroke-width="0.95"/>
<circle cx="259.53" cy="232.67" r="1.6" fill="none" stroke="#4aa34a" stroke-width="0.95"/>
<circle cx="261.51" cy="229.59" r="1.6" fill="none" stroke="#4aa34a" stroke-width="0.95"/>
<circle cx="263.49" cy="223.26" r="1.6" fill="none" stroke="#4aa34a" stroke-width="0.95"/>
<circle cx="265.47" cy="210.37" r="1.6" fill="none" stroke="#4aa34a" stroke-width="0.95"/>
<circle cx="267.45" cy="197.03" r="1.6" fill="none" stroke="#4aa34a" stroke-width="0.95"/>
<circle cx="269.43" cy="196.65" r="1.6" fill="none" stroke="#4aa34a" stroke-width="0.95"/>
<circle cx="271.41" cy="199.01" r="1.6" fill="none" stroke="#4aa34a" stroke-width="0.95"/>
<circle cx="273.39" cy="202.04" r="1.6" fill="none" stroke="#4aa34a" stroke-width="0.95"/>
<circle cx="275.37" cy="206.7" r="1.6" fill="none" stroke="#4aa34a" stroke-width="0.95"/>
<circle cx="277.35" cy="216.83" r="1.6" fill="none" stroke="#4aa34a" stroke-width="0.95"/>
<circle cx="279.33" cy="226.19" r="1.6" fill="none" stroke="#4aa34a" stroke-width="0.95"/>
<circle cx="281.31" cy="222.74" r="1.6" fill="none" stroke="#4aa34a" stroke-width="0.95"/>
<circle cx="283.29" cy="224.79" r="1.6" fill="none" stroke="#4aa34a" stroke-width="0.95"/>
<circle cx="285.27" cy="230.85" r="1.6" fill="none" stroke="#4aa34a" stroke-width="0.95"/>
<circle cx="287.25" cy="223.94" r="1.6" fill="none" stroke="#4aa34a" stroke-width="0.95"/>
<circle cx="289.23" cy="224.84" r="1.6" fill="none" stroke="#4aa34a" stroke-width="0.95"/>
<circle cx="291.21" cy="228.08" r="1.6" fill="none" stroke="#4aa34a" stroke-width="0.95"/>
<circle cx="293.19" cy="229.1" r="1.6" fill="none" stroke="#4aa34a" stroke-width="0.95"/>
<circle cx="295.17" cy="233.53" r="1.6" fill="none" stroke="#4aa34a" stroke-width="0.95"/>
<circle cx="297.15" cy="235.4" r="1.6" fill="none" stroke="#4aa34a" stroke-width="0.95"/>
<circle cx="299.13" cy="231.98" r="1.6" fill="none" stroke="#4aa34a" stroke-width="0.95"/>
<circle cx="301.11" cy="236.65" r="1.6" fill="none" stroke="#4aa34a" stroke-width="0.95"/>
<circle cx="303.09" cy="236.43" r="1.6" fill="none" stroke="#4aa34a" stroke-width="0.95"/>
<circle cx="305.07" cy="236.86" r="1.6" fill="none" stroke="#4aa34a" stroke-width="0.95"/>
<circle cx="307.05" cy="239.43" r="1.6" fill="none" stroke="#4aa34a" stroke-width="0.95"/>
<circle cx="309.03" cy="236.74" r="1.6" fill="none" stroke="#4aa34a" stroke-width="0.95"/>
<circle cx="311.01" cy="237.78" r="1.6" fill="none" stroke="#4aa34a" stroke-width="0.95"/>
<circle cx="312.99" cy="235.35" r="1.6" fill="none" stroke="#4aa34a" stroke-width="0.95"/>
<circle cx="314.97" cy="238.83" r="1.6" fill="none" stroke="#4aa34a" stroke-width="0.95"/>
<circle cx="316.95" cy="238.45" r="1.6" fill="none" stroke="#4aa34a" stroke-width="0.95"/>
<circle cx="318.93" cy="240.02" r="1.6" fill="none" stroke="#4aa34a" stroke-width="0.95"/>
<circle cx="320.91" cy="239.12" r="1.6" fill="none" stroke="#4aa34a" stroke-width="0.95"/>
<circle cx="322.89" cy="241.21" r="1.6" fill="none" stroke="#4aa34a" stroke-width="0.95"/>
<circle cx="324.87" cy="243.08" r="1.6" fill="none" stroke="#4aa34a" stroke-width="0.95"/>
<circle cx="326.85" cy="237.5" r="1.6" fill="none" stroke="#4aa34a" stroke-width="0.95"/>
<circle cx="328.83" cy="237.8" r="1.6" fill="none" stroke="#4aa34a" stroke-width="0.95"/>
<circle cx="330.81" cy="239.35" r="1.6" fill="none" stroke="#4aa34a" stroke-width="0.95"/>
<circle cx="332.79" cy="240.71" r="1.6" fill="none" stroke="#4aa34a" stroke-width="0.95"/>
<circle cx="334.77" cy="244.07" r="1.6" fill="none" stroke="#4aa34a" stroke-width="0.95"/>
<circle cx="336.75" cy="244.88" r="1.6" fill="none" stroke="#4aa34a" stroke-width="0.95"/>
<circle cx="338.73" cy="244.51" r="1.6" fill="none" stroke="#4aa34a" stroke-width="0.95"/>
<circle cx="340.71" cy="246.41" r="1.6" fill="none" stroke="#4aa34a" stroke-width="0.95"/>
<circle cx="342.69" cy="240.85" r="1.6" fill="none" stroke="#4aa34a" stroke-width="0.95"/>
<circle cx="344.67" cy="243.93" r="1.6" fill="none" stroke="#4aa34a" stroke-width="0.95"/>
<circle cx="327.95" cy="250.64" r="1.6" fill="none" stroke="#4aa34a" stroke-width="0.95"/>
<circle cx="334.55" cy="252.52" r="1.6" fill="none" stroke="#4aa34a" stroke-width="0.95"/>
<circle cx="338.95" cy="247.51" r="1.6" fill="none" stroke="#4aa34a" stroke-width="0.95"/>
<text x="0" y="0" font-size="9.5" text-anchor="middle" textLength="46.5" lengthAdjust="spacingAndGlyphs" transform="translate(389.7 223.5) rotate(-90)" stroke="#333" stroke-width="0.22">EPP (nM·min)</text>
<line x1="419.5" y1="190" x2="419.5" y2="259.35" stroke="#222" stroke-width="1.3"/>
<line x1="418.9" y1="258.75" x2="507.5" y2="258.75" stroke="#222" stroke-width="1.3"/>
<line x1="416" y1="195" x2="419.5" y2="195" stroke="#222" stroke-width="1"/>
<text x="412.1" y="198.06" font-size="8.5" text-anchor="end" fill="#444" textLength="15.5" lengthAdjust="spacingAndGlyphs" stroke="#444" stroke-width="0.22">1000</text>
<line x1="416" y1="210.5" x2="419.5" y2="210.5" stroke="#222" stroke-width="1"/>
<text x="412.1" y="213.56" font-size="8.5" text-anchor="end" fill="#444" textLength="11.63" lengthAdjust="spacingAndGlyphs" stroke="#444" stroke-width="0.22">750</text>
<line x1="416" y1="225.5" x2="419.5" y2="225.5" stroke="#222" stroke-width="1"/>
<text x="412.1" y="228.56" font-size="8.5" text-anchor="end" fill="#444" textLength="11.63" lengthAdjust="spacingAndGlyphs" stroke="#444" stroke-width="0.22">500</text>
<line x1="416" y1="240.75" x2="419.5" y2="240.75" stroke="#222" stroke-width="1"/>
<text x="412.1" y="243.81" font-size="8.5" text-anchor="end" fill="#444" textLength="11.63" lengthAdjust="spacingAndGlyphs" stroke="#444" stroke-width="0.22">250</text>
<line x1="416" y1="255.75" x2="419.5" y2="255.75" stroke="#222" stroke-width="1"/>
<text x="412.1" y="258.81" font-size="8.5" text-anchor="end" fill="#444" textLength="3.88" lengthAdjust="spacingAndGlyphs" stroke="#444" stroke-width="0.22">0</text>
<rect x="428.25" y="208" width="16.75" height="47.75" fill="#7ba1c6"/>
<line x1="436.62" y1="258.75" x2="436.62" y2="261.95" stroke="#222" stroke-width="1"/>
<rect x="457" y="218" width="17" height="37.75" fill="#e6879c"/>
<line x1="465.5" y1="258.75" x2="465.5" y2="261.95" stroke="#222" stroke-width="1"/>
<rect x="485.75" y="203" width="17.25" height="52.75" fill="#a3d3a0"/>
<line x1="494.38" y1="258.75" x2="494.38" y2="261.95" stroke="#222" stroke-width="1"/>
<line x1="436.6" y1="205" x2="436.6" y2="208" stroke="#222" stroke-width="0.9"/>
<line x1="434.4" y1="205" x2="438.8" y2="205" stroke="#222" stroke-width="0.9"/>
<line x1="465.5" y1="214.5" x2="465.5" y2="218" stroke="#222" stroke-width="0.9"/>
<line x1="463.3" y1="214.5" x2="467.7" y2="214.5" stroke="#222" stroke-width="0.9"/>
<line x1="494.4" y1="198" x2="494.4" y2="209" stroke="#222" stroke-width="0.9"/>
<line x1="492.2" y1="198" x2="496.6" y2="198" stroke="#222" stroke-width="0.9"/>
<circle cx="438.25" cy="199.5" r="2.25" fill="#1a4066" stroke="#111" stroke-width="0.7"/>
<circle cx="436.25" cy="207" r="2.25" fill="#1a4066" stroke="#111" stroke-width="0.7"/>
<circle cx="433.75" cy="209.5" r="2.25" fill="#1a4066" stroke="#111" stroke-width="0.7"/>
<circle cx="437" cy="215" r="2.25" fill="#1a4066" stroke="#111" stroke-width="0.7"/>
<circle cx="467.5" cy="210.75" r="2.25" fill="#99102d" stroke="#111" stroke-width="0.7"/>
<circle cx="464.5" cy="220" r="2.25" fill="#99102d" stroke="#111" stroke-width="0.7"/>
<circle cx="468" cy="218.75" r="2.25" fill="#99102d" stroke="#111" stroke-width="0.7"/>
<circle cx="468" cy="223.75" r="2.25" fill="#99102d" stroke="#111" stroke-width="0.7"/>
<line x1="431.25" y1="196.25" x2="460" y2="196.25" stroke="#333" stroke-width="1"/>
<text x="445.62" y="196.55" font-size="7" text-anchor="middle" stroke="#333" stroke-width="0.22">*</text>
<line x1="464.25" y1="188" x2="492.5" y2="188" stroke="#333" stroke-width="1"/>
<text x="478.38" y="188.3" font-size="7" text-anchor="middle" stroke="#333" stroke-width="0.22">*</text>
<circle cx="495" cy="192.5" r="2.25" fill="#62b35e" stroke="#245224" stroke-width="0.7"/>
<circle cx="492.5" cy="197.5" r="2.25" fill="#62b35e" stroke="#245224" stroke-width="0.7"/>
<circle cx="496.25" cy="207.5" r="2.25" fill="#62b35e" stroke="#245224" stroke-width="0.7"/>
<circle cx="494.25" cy="215" r="2.25" fill="#62b35e" stroke="#245224" stroke-width="0.7"/>
<text x="0" y="0" font-size="8.5" text-anchor="end" textLength="10.5" lengthAdjust="spacingAndGlyphs" transform="translate(437.5 271.2) rotate(-45)" stroke="#333" stroke-width="0.22">WT</text>
<text x="0" y="0" font-size="8.5" text-anchor="end" textLength="25.5" lengthAdjust="spacingAndGlyphs" transform="translate(443.16 276.86) rotate(-45)" stroke="#333" stroke-width="0.22">Zsgreen</text>
<text x="0" y="0" font-size="8.5" text-anchor="end" textLength="25" lengthAdjust="spacingAndGlyphs" transform="translate(466.4 271) rotate(-45)" stroke="#333" stroke-width="0.22">Fxr-null</text>
<text x="0" y="0" font-size="8.5" text-anchor="end" textLength="25.5" lengthAdjust="spacingAndGlyphs" transform="translate(472.06 276.66) rotate(-45)" stroke="#333" stroke-width="0.22">Zsgreen</text>
<text x="0" y="0" font-size="8.5" text-anchor="end" textLength="25" lengthAdjust="spacingAndGlyphs" transform="translate(495.2 271) rotate(-45)" stroke="#333" stroke-width="0.22">Fxr-null</text>
<text x="0" y="0" font-size="8.5" text-anchor="end" textLength="36" lengthAdjust="spacingAndGlyphs" transform="translate(500.86 276.66) rotate(-45)" stroke="#333" stroke-width="0.22">shSerpine1</text>
<text x="8.9" y="334.96" font-size="13.57" font-weight="bold" fill="#000" textLength="8.12" lengthAdjust="spacingAndGlyphs">U</text>
<text x="33.8" y="350.4" font-size="9.5" textLength="12.1" lengthAdjust="spacingAndGlyphs" stroke="#333" stroke-width="0.22">Fxr</text>
<text x="47.1" y="346.6" font-size="5.2" textLength="7.6" lengthAdjust="spacingAndGlyphs" stroke="#333" stroke-width="0.22" font-style="italic">fl/fl</text>
<text x="58.6" y="350.4" font-size="9.5" textLength="20.2" lengthAdjust="spacingAndGlyphs" stroke="#333" stroke-width="0.22">mice</text>
<text x="0" y="0" font-size="9" text-anchor="middle" textLength="66" lengthAdjust="spacingAndGlyphs" transform="translate(15.8 394) rotate(-90)" stroke="#333" stroke-width="0.22">Plasm PAI1 (ng/mL)</text>
<line x1="37.5" y1="360.75" x2="37.5" y2="433.1" stroke="#222" stroke-width="1.3"/>
<line x1="36.9" y1="432.5" x2="91.25" y2="432.5" stroke="#222" stroke-width="1.3"/>
<line x1="34" y1="363.25" x2="37.5" y2="363.25" stroke="#222" stroke-width="1"/>
<text x="30.1" y="366.31" font-size="8.5" text-anchor="end" fill="#444" textLength="7.75" lengthAdjust="spacingAndGlyphs" stroke="#444" stroke-width="0.22">15</text>
<line x1="34" y1="386.25" x2="37.5" y2="386.25" stroke="#222" stroke-width="1"/>
<text x="30.1" y="389.31" font-size="8.5" text-anchor="end" fill="#444" textLength="7.75" lengthAdjust="spacingAndGlyphs" stroke="#444" stroke-width="0.22">10</text>
<line x1="34" y1="408.75" x2="37.5" y2="408.75" stroke="#222" stroke-width="1"/>
<text x="30.1" y="411.81" font-size="8.5" text-anchor="end" fill="#444" textLength="3.88" lengthAdjust="spacingAndGlyphs" stroke="#444" stroke-width="0.22">5</text>
<line x1="34" y1="429.5" x2="37.5" y2="429.5" stroke="#222" stroke-width="1"/>
<text x="30.1" y="432.56" font-size="8.5" text-anchor="end" fill="#444" textLength="3.88" lengthAdjust="spacingAndGlyphs" stroke="#444" stroke-width="0.22">0</text>
<rect x="45" y="403.75" width="16.25" height="25.75" fill="#7ba1c6"/>
<line x1="53.12" y1="432.5" x2="53.12" y2="435.7" stroke="#222" stroke-width="1"/>
<rect x="72.5" y="377" width="16.25" height="52.5" fill="#e6879c"/>
<line x1="80.62" y1="432.5" x2="80.62" y2="435.7" stroke="#222" stroke-width="1"/>
<line x1="53.1" y1="399.5" x2="53.1" y2="403.75" stroke="#222" stroke-width="0.9"/>
<line x1="50.9" y1="399.5" x2="55.3" y2="399.5" stroke="#222" stroke-width="0.9"/>
<line x1="80.6" y1="368.75" x2="80.6" y2="382" stroke="#222" stroke-width="0.9"/>
<line x1="78.4" y1="368.75" x2="82.8" y2="368.75" stroke="#222" stroke-width="0.9"/>
<circle cx="51.25" cy="393.75" r="2.25" fill="#1a4066" stroke="#111" stroke-width="0.7"/>
<circle cx="50" cy="403.75" r="2.25" fill="#1a4066" stroke="#111" stroke-width="0.7"/>
<circle cx="53.25" cy="408" r="2.25" fill="#1a4066" stroke="#111" stroke-width="0.7"/>
<circle cx="53.25" cy="411.25" r="2.25" fill="#1a4066" stroke="#111" stroke-width="0.7"/>
<circle cx="79.5" cy="366.25" r="2.25" fill="#99102d" stroke="#111" stroke-width="0.7"/>
<circle cx="82.5" cy="366.25" r="2.25" fill="#99102d" stroke="#111" stroke-width="0.7"/>
<circle cx="78.75" cy="382.5" r="2.25" fill="#99102d" stroke="#111" stroke-width="0.7"/>
<circle cx="82.5" cy="393.75" r="2.25" fill="#99102d" stroke="#111" stroke-width="0.7"/>
<line x1="43" y1="361.25" x2="79.5" y2="361.25" stroke="#333" stroke-width="1"/>
<text x="61.25" y="361.55" font-size="7" text-anchor="middle" stroke="#333" stroke-width="0.22">*</text>
<text x="52.1" y="447.3" font-size="8.5" text-anchor="middle" textLength="25.8" lengthAdjust="spacingAndGlyphs" stroke="#333" stroke-width="0.22">Zsgreen</text>
<text x="80.2" y="447.3" font-size="8.5" text-anchor="middle" textLength="11.2" lengthAdjust="spacingAndGlyphs" stroke="#333" stroke-width="0.22">Cre</text>
<text x="107.75" y="335.3" font-size="13.84" font-weight="bold" fill="#000" textLength="9.21" lengthAdjust="spacingAndGlyphs">V</text>
<text x="127.5" y="350.7" font-size="9.5" textLength="12.1" lengthAdjust="spacingAndGlyphs" stroke="#333" stroke-width="0.22">Fxr</text>
<text x="140.8" y="346.9" font-size="5.2" textLength="7.6" lengthAdjust="spacingAndGlyphs" stroke="#333" stroke-width="0.22" font-style="italic">fl/fl</text>
<text x="152.3" y="350.7" font-size="9.5" textLength="20.2" lengthAdjust="spacingAndGlyphs" stroke="#333" stroke-width="0.22">mice</text>
<text x="0" y="0" font-size="9" text-anchor="middle" textLength="78" lengthAdjust="spacingAndGlyphs" transform="translate(238.8 397) rotate(-90)" stroke="#333" stroke-width="0.22">Thrombus weight (mg)</text>
<line x1="260.75" y1="359.5" x2="260.75" y2="433.2" stroke="#222" stroke-width="1.3"/>
<line x1="260.15" y1="432.6" x2="320" y2="432.6" stroke="#222" stroke-width="1.3"/>
<line x1="257.25" y1="368.75" x2="260.75" y2="368.75" stroke="#222" stroke-width="1"/>
<text x="253.35" y="371.81" font-size="8.5" text-anchor="end" fill="#444" textLength="7.75" lengthAdjust="spacingAndGlyphs" stroke="#444" stroke-width="0.22">15</text>
<line x1="257.25" y1="389.25" x2="260.75" y2="389.25" stroke="#222" stroke-width="1"/>
<text x="253.35" y="392.31" font-size="8.5" text-anchor="end" fill="#444" textLength="7.75" lengthAdjust="spacingAndGlyphs" stroke="#444" stroke-width="0.22">10</text>
<line x1="257.25" y1="409.5" x2="260.75" y2="409.5" stroke="#222" stroke-width="1"/>
<text x="253.35" y="412.56" font-size="8.5" text-anchor="end" fill="#444" textLength="3.88" lengthAdjust="spacingAndGlyphs" stroke="#444" stroke-width="0.22">5</text>
<line x1="257.25" y1="430" x2="260.75" y2="430" stroke="#222" stroke-width="1"/>
<text x="253.35" y="433.06" font-size="8.5" text-anchor="end" fill="#444" textLength="3.88" lengthAdjust="spacingAndGlyphs" stroke="#444" stroke-width="0.22">0</text>
<rect x="268.75" y="408.25" width="16.25" height="21.75" fill="#7ba1c6"/>
<line x1="276.88" y1="432.6" x2="276.88" y2="435.8" stroke="#222" stroke-width="1"/>
<rect x="295.75" y="383.75" width="16.75" height="46.25" fill="#e6879c"/>
<line x1="304.12" y1="432.6" x2="304.12" y2="435.8" stroke="#222" stroke-width="1"/>
<line x1="276.9" y1="400.75" x2="276.9" y2="408.25" stroke="#222" stroke-width="0.9"/>
<line x1="274.7" y1="400.75" x2="279.1" y2="400.75" stroke="#222" stroke-width="0.9"/>
<line x1="304.1" y1="376.25" x2="304.1" y2="383.75" stroke="#222" stroke-width="0.9"/>
<line x1="301.9" y1="376.25" x2="306.3" y2="376.25" stroke="#222" stroke-width="0.9"/>
<circle cx="275.75" cy="382" r="2.25" fill="#1a4066" stroke="#111" stroke-width="0.7"/>
<circle cx="278.25" cy="408.25" r="2.25" fill="#1a4066" stroke="#111" stroke-width="0.7"/>
<circle cx="275" cy="415.5" r="2.25" fill="#1a4066" stroke="#111" stroke-width="0.7"/>
<circle cx="273.75" cy="417" r="2.25" fill="#1a4066" stroke="#111" stroke-width="0.7"/>
<circle cx="275.75" cy="421.25" r="2.25" fill="#1a4066" stroke="#111" stroke-width="0.7"/>
<circle cx="302.5" cy="362" r="2.25" fill="#99102d" stroke="#111" stroke-width="0.7"/>
<circle cx="305" cy="369.25" r="2.25" fill="#99102d" stroke="#111" stroke-width="0.7"/>
<circle cx="303.75" cy="389.25" r="2.25" fill="#99102d" stroke="#111" stroke-width="0.7"/>
<circle cx="303" cy="397" r="2.25" fill="#99102d" stroke="#111" stroke-width="0.7"/>
<circle cx="302.5" cy="399.5" r="2.25" fill="#99102d" stroke="#111" stroke-width="0.7"/>
<line x1="273.75" y1="359.25" x2="310" y2="359.25" stroke="#333" stroke-width="1"/>
<text x="291.88" y="359.55" font-size="7" text-anchor="middle" stroke="#333" stroke-width="0.22">*</text>
<text x="276.25" y="447.6" font-size="8.5" text-anchor="middle" textLength="25.8" lengthAdjust="spacingAndGlyphs" stroke="#333" stroke-width="0.22">Zsgreen</text>
<text x="304.25" y="447.6" font-size="8.5" text-anchor="middle" textLength="11.2" lengthAdjust="spacingAndGlyphs" stroke="#333" stroke-width="0.22">Cre</text>
<text x="0" y="0" font-size="9" text-anchor="middle" textLength="78.75" lengthAdjust="spacingAndGlyphs" transform="translate(339 399.4) rotate(-90)" stroke="#333" stroke-width="0.22">Thrombus length (mm)</text>
<line x1="362.5" y1="358.75" x2="362.5" y2="433.2" stroke="#222" stroke-width="1.3"/>
<line x1="361.9" y1="432.6" x2="424.5" y2="432.6" stroke="#222" stroke-width="1.3"/>
<line x1="359" y1="373.25" x2="362.5" y2="373.25" stroke="#222" stroke-width="1"/>
<text x="355.1" y="376.31" font-size="8.5" text-anchor="end" fill="#444" textLength="9.69" lengthAdjust="spacingAndGlyphs" stroke="#444" stroke-width="0.22">7.5</text>
<line x1="359" y1="392" x2="362.5" y2="392" stroke="#222" stroke-width="1"/>
<text x="355.1" y="395.06" font-size="8.5" text-anchor="end" fill="#444" textLength="9.69" lengthAdjust="spacingAndGlyphs" stroke="#444" stroke-width="0.22">5.0</text>
<line x1="359" y1="410.75" x2="362.5" y2="410.75" stroke="#222" stroke-width="1"/>
<text x="355.1" y="413.81" font-size="8.5" text-anchor="end" fill="#444" textLength="9.69" lengthAdjust="spacingAndGlyphs" stroke="#444" stroke-width="0.22">2.5</text>
<line x1="359" y1="429.5" x2="362.5" y2="429.5" stroke="#222" stroke-width="1"/>
<text x="355.1" y="432.56" font-size="8.5" text-anchor="end" fill="#444" textLength="9.69" lengthAdjust="spacingAndGlyphs" stroke="#444" stroke-width="0.22">0.0</text>
<rect x="370.75" y="411.75" width="17.25" height="17.75" fill="#7ba1c6"/>
<line x1="379.38" y1="432.6" x2="379.38" y2="435.8" stroke="#222" stroke-width="1"/>
<rect x="399.25" y="380" width="17" height="49.5" fill="#e6879c"/>
<line x1="407.75" y1="432.6" x2="407.75" y2="435.8" stroke="#222" stroke-width="1"/>
<line x1="379.4" y1="404.25" x2="379.4" y2="411.75" stroke="#222" stroke-width="0.9"/>
<line x1="377.2" y1="404.25" x2="381.6" y2="404.25" stroke="#222" stroke-width="0.9"/>
<line x1="407.75" y1="374.25" x2="407.75" y2="380" stroke="#222" stroke-width="0.9"/>
<line x1="405.55" y1="374.25" x2="409.95" y2="374.25" stroke="#222" stroke-width="0.9"/>
<circle cx="377" cy="388" r="2.25" fill="#1a4066" stroke="#111" stroke-width="0.7"/>
<circle cx="377" cy="408.75" r="2.25" fill="#1a4066" stroke="#111" stroke-width="0.7"/>
<circle cx="378.75" cy="416.25" r="2.25" fill="#1a4066" stroke="#111" stroke-width="0.7"/>
<circle cx="380" cy="420" r="2.25" fill="#1a4066" stroke="#111" stroke-width="0.7"/>
<circle cx="378.25" cy="427" r="2.25" fill="#1a4066" stroke="#111" stroke-width="0.7"/>
<circle cx="408" cy="365" r="2.25" fill="#99102d" stroke="#111" stroke-width="0.7"/>
<circle cx="405.5" cy="370" r="2.25" fill="#99102d" stroke="#111" stroke-width="0.7"/>
<circle cx="405" cy="388.25" r="2.25" fill="#99102d" stroke="#111" stroke-width="0.7"/>
<circle cx="410" cy="390" r="2.25" fill="#99102d" stroke="#111" stroke-width="0.7"/>
<circle cx="408" cy="396.25" r="2.25" fill="#99102d" stroke="#111" stroke-width="0.7"/>
<line x1="373" y1="359.5" x2="409.5" y2="359.5" stroke="#333" stroke-width="1"/>
<text x="391.25" y="359.8" font-size="7" text-anchor="middle" stroke="#333" stroke-width="0.22">*</text>
<text x="378.25" y="447.6" font-size="8.5" text-anchor="middle" textLength="25.8" lengthAdjust="spacingAndGlyphs" stroke="#333" stroke-width="0.22">Zsgreen</text>
<text x="407.5" y="447.6" font-size="8.5" text-anchor="middle" textLength="11.2" lengthAdjust="spacingAndGlyphs" stroke="#333" stroke-width="0.22">Cre</text>
<defs><filter id="b06" x="-20%" y="-20%" width="140%" height="140%"><feGaussianBlur stdDeviation="0.6"/></filter><filter id="b1" x="-30%" y="-30%" width="160%" height="160%"><feGaussianBlur stdDeviation="1"/></filter><filter id="b2" x="-50%" y="-50%" width="200%" height="200%"><feGaussianBlur stdDeviation="2"/></filter><filter id="noiseD" x="0" y="0" width="100%" height="100%"><feTurbulence type="fractalNoise" baseFrequency="0.9 0.035" numOctaves="2" seed="7"/><feColorMatrix type="matrix" values="0 0 0 0 0.3  0 0 0 0 0.3  0 0 0 0 0.32  0 0 0 1.8 -0.8"/></filter><filter id="noiseL" x="0" y="0" width="100%" height="100%"><feTurbulence type="fractalNoise" baseFrequency="0.9 0.04" numOctaves="2" seed="19"/><feColorMatrix type="matrix" values="0 0 0 0 0.85  0 0 0 0 0.85  0 0 0 0 0.85  0 0 0 1.2 -0.58"/></filter><linearGradient id="rulerR" x1="0" y1="0" x2="0" y2="1"><stop offset="0" stop-color="#46464f"/><stop offset="0.15" stop-color="#5a5a62"/><stop offset="0.35" stop-color="#7e7e84"/><stop offset="0.5" stop-color="#9e9ea0"/><stop offset="0.65" stop-color="#b4b4b4"/><stop offset="0.8" stop-color="#aaaaac"/><stop offset="1" stop-color="#c0c0c0"/></linearGradient><radialGradient id="bgR" cx="0.45" cy="0.5" r="0.7"><stop offset="0" stop-color="#dcdadd"/><stop offset="0.55" stop-color="#d0ced2"/><stop offset="1" stop-color="#b6b6ba"/></radialGradient><radialGradient id="bgV" cx="0.5" cy="0.45" r="0.75"><stop offset="0" stop-color="#c6c4bf"/><stop offset="0.7" stop-color="#b8b5af"/><stop offset="1" stop-color="#a9a69f"/></radialGradient><linearGradient id="thrR" x1="0" y1="0" x2="0" y2="1"><stop offset="0" stop-color="#300608"/><stop offset="0.45" stop-color="#4e0a10"/><stop offset="0.8" stop-color="#7a1418"/><stop offset="1" stop-color="#c0281e"/></linearGradient><linearGradient id="thrR2" x1="0" y1="0" x2="0" y2="1"><stop offset="0" stop-color="#3a080a"/><stop offset="0.6" stop-color="#8a1a14"/><stop offset="1" stop-color="#e07a3a"/></linearGradient><linearGradient id="thrV" x1="0" y1="0" x2="0" y2="1"><stop offset="0" stop-color="#2c1a1a"/><stop offset="0.55" stop-color="#3e2222"/><stop offset="1" stop-color="#b58a78"/></linearGradient><linearGradient id="thrV2" x1="0" y1="0" x2="0" y2="1"><stop offset="0" stop-color="#2c1a1a"/><stop offset="0.4" stop-color="#442626"/><stop offset="1" stop-color="#d8b09a"/></linearGradient></defs>
<clipPath id="clipR"><rect x="360.5" y="40" width="39" height="69"/></clipPath>
<g clip-path="url(#clipR)">
<rect x="360.5" y="40" width="39" height="69" fill="url(#rulerR)"/>
<rect x="360.5" y="40" width="39" height="69" filter="url(#noiseD)"/>
<rect x="360.5" y="40" width="39" height="69" filter="url(#noiseL)"/>
<line x1="393" y1="41.5" x2="399" y2="41.5" stroke="#6a6a6a" stroke-width="0.5"/>
<line x1="395.5" y1="44.5" x2="399" y2="44.5" stroke="#6a6a6a" stroke-width="0.5"/>
<line x1="395.5" y1="47.5" x2="399" y2="47.5" stroke="#6a6a6a" stroke-width="0.5"/>
<line x1="395.5" y1="50.5" x2="399" y2="50.5" stroke="#6a6a6a" stroke-width="0.5"/>
<line x1="395.5" y1="53.5" x2="399" y2="53.5" stroke="#6a6a6a" stroke-width="0.5"/>
<line x1="393" y1="56.5" x2="399" y2="56.5" stroke="#6a6a6a" stroke-width="0.5"/>
<line x1="395.5" y1="59.5" x2="399" y2="59.5" stroke="#6a6a6a" stroke-width="0.5"/>
<line x1="395.5" y1="62.5" x2="399" y2="62.5" stroke="#6a6a6a" stroke-width="0.5"/>
<line x1="395.5" y1="65.5" x2="399" y2="65.5" stroke="#6a6a6a" stroke-width="0.5"/>
<line x1="395.5" y1="68.5" x2="399" y2="68.5" stroke="#6a6a6a" stroke-width="0.5"/>
<line x1="393" y1="71.5" x2="399" y2="71.5" stroke="#6a6a6a" stroke-width="0.5"/>
<line x1="395.5" y1="74.5" x2="399" y2="74.5" stroke="#6a6a6a" stroke-width="0.5"/>
<line x1="395.5" y1="77.5" x2="399" y2="77.5" stroke="#6a6a6a" stroke-width="0.5"/>
<line x1="395.5" y1="80.5" x2="399" y2="80.5" stroke="#6a6a6a" stroke-width="0.5"/>
<line x1="395.5" y1="83.5" x2="399" y2="83.5" stroke="#6a6a6a" stroke-width="0.5"/>
<line x1="393" y1="86.5" x2="399" y2="86.5" stroke="#6a6a6a" stroke-width="0.5"/>
<line x1="395.5" y1="89.5" x2="399" y2="89.5" stroke="#6a6a6a" stroke-width="0.5"/>
<line x1="395.5" y1="92.5" x2="399" y2="92.5" stroke="#6a6a6a" stroke-width="0.5"/>
<line x1="395.5" y1="95.5" x2="399" y2="95.5" stroke="#6a6a6a" stroke-width="0.5"/>
<line x1="395.5" y1="98.5" x2="399" y2="98.5" stroke="#6a6a6a" stroke-width="0.5"/>
<line x1="393" y1="101.5" x2="399" y2="101.5" stroke="#6a6a6a" stroke-width="0.5"/>
<line x1="395.5" y1="104.5" x2="399" y2="104.5" stroke="#6a6a6a" stroke-width="0.5"/>
<line x1="395.5" y1="107.5" x2="399" y2="107.5" stroke="#6a6a6a" stroke-width="0.5"/>
<text x="0" y="0" font-size="12.5" text-anchor="middle" font-weight="bold" fill="#111" transform="translate(372.4 64.8) rotate(90)" dy="4.3">2</text>
<text x="0" y="0" font-size="12.5" text-anchor="middle" font-weight="bold" fill="#111" transform="translate(372 91.2) rotate(90)" dy="4.3">3</text>
<rect x="361" y="64" width="2.6" height="2" fill="#111"/>
<rect x="382.9" y="65" width="2.6" height="2" fill="#111"/>
<rect x="360.2" y="90.2" width="2.6" height="2" fill="#111"/>
<rect x="382.2" y="91" width="2.6" height="2" fill="#111"/>
<ellipse cx="370" cy="71.5" rx="6" ry="2.2" fill="#505058" opacity="0.45" filter="url(#b1)"/>
<ellipse cx="381" cy="73" rx="3" ry="1.6" fill="#505058" opacity="0.45" filter="url(#b1)"/>
<circle cx="367.1" cy="87.21" r="0.68" fill="#4a4a4a" opacity="0.5"/>
<circle cx="378.73" cy="55.47" r="0.78" fill="#4a4a4a" opacity="0.5"/>
<circle cx="390.89" cy="75.33" r="0.6" fill="#4a4a4a" opacity="0.5"/>
<circle cx="369.73" cy="41.21" r="0.52" fill="#4a4a4a" opacity="0.5"/>
<circle cx="382.66" cy="45.64" r="0.78" fill="#4a4a4a" opacity="0.5"/>
<circle cx="369.59" cy="56.59" r="0.33" fill="#4a4a4a" opacity="0.5"/>
<circle cx="397.91" cy="90.49" r="0.83" fill="#4a4a4a" opacity="0.5"/>
<circle cx="383.79" cy="43.28" r="0.5" fill="#4a4a4a" opacity="0.5"/>
<circle cx="379.41" cy="48.76" r="0.87" fill="#4a4a4a" opacity="0.5"/>
<circle cx="374.63" cy="51.37" r="0.79" fill="#4a4a4a" opacity="0.5"/>
<circle cx="365.62" cy="103.17" r="0.57" fill="#4a4a4a" opacity="0.5"/>
<circle cx="381.42" cy="63.98" r="0.59" fill="#4a4a4a" opacity="0.5"/>
<circle cx="367.92" cy="43.49" r="0.82" fill="#4a4a4a" opacity="0.5"/>
<circle cx="369.69" cy="93.28" r="0.43" fill="#4a4a4a" opacity="0.5"/>
<circle cx="396.84" cy="100.9" r="0.75" fill="#4a4a4a" opacity="0.5"/>
<circle cx="389.22" cy="79.91" r="0.74" fill="#4a4a4a" opacity="0.5"/>
<circle cx="365.53" cy="72.91" r="0.8" fill="#4a4a4a" opacity="0.5"/>
<circle cx="368.44" cy="102.85" r="0.83" fill="#4a4a4a" opacity="0.5"/>
<circle cx="376.16" cy="65.47" r="0.57" fill="#4a4a4a" opacity="0.5"/>
<circle cx="375.27" cy="107.65" r="0.53" fill="#4a4a4a" opacity="0.5"/>
<circle cx="361.99" cy="47.25" r="0.73" fill="#4a4a4a" opacity="0.5"/>
<circle cx="397.73" cy="74.23" r="0.59" fill="#4a4a4a" opacity="0.5"/>
<circle cx="381.37" cy="91.13" r="0.43" fill="#4a4a4a" opacity="0.5"/>
<circle cx="383.53" cy="78.28" r="0.67" fill="#4a4a4a" opacity="0.5"/>
<circle cx="367.69" cy="52.4" r="0.51" fill="#4a4a4a" opacity="0.5"/>
<circle cx="395.3" cy="64.22" r="0.66" fill="#4a4a4a" opacity="0.5"/>
<circle cx="372.34" cy="47.92" r="0.34" fill="#4a4a4a" opacity="0.5"/>
<circle cx="391.11" cy="93.06" r="0.52" fill="#4a4a4a" opacity="0.5"/>
<circle cx="386.28" cy="86.29" r="0.84" fill="#4a4a4a" opacity="0.5"/>
<circle cx="396.46" cy="68.27" r="0.89" fill="#4a4a4a" opacity="0.5"/>
<circle cx="396.57" cy="80.56" r="0.83" fill="#4a4a4a" opacity="0.5"/>
<circle cx="379.16" cy="66.16" r="0.45" fill="#4a4a4a" opacity="0.5"/>
<circle cx="393.42" cy="51.87" r="0.34" fill="#4a4a4a" opacity="0.5"/>
<circle cx="390.8" cy="92.85" r="0.59" fill="#4a4a4a" opacity="0.5"/>
<circle cx="391.97" cy="44.5" r="0.45" fill="#4a4a4a" opacity="0.5"/>
<circle cx="371.73" cy="69.11" r="0.4" fill="#4a4a4a" opacity="0.5"/>
<circle cx="363.57" cy="63.65" r="0.84" fill="#4a4a4a" opacity="0.5"/>
<circle cx="397.39" cy="90.97" r="0.59" fill="#4a4a4a" opacity="0.5"/>
<circle cx="370.33" cy="105.24" r="0.62" fill="#4a4a4a" opacity="0.5"/>
<circle cx="387.96" cy="42.9" r="0.43" fill="#4a4a4a" opacity="0.5"/>
<text x="384" y="63.4" font-size="7" text-anchor="middle" fill="#d02850" textLength="19" lengthAdjust="spacingAndGlyphs" stroke="#d02850" stroke-width="0.22" opacity="0.65">Zsgreen</text>
<text x="379.3" y="99.3" font-size="7.5" text-anchor="middle" fill="#d02858" textLength="33.5" lengthAdjust="spacingAndGlyphs" stroke="#d02858" stroke-width="0.22" opacity="0.75">shSerpine1</text>
</g>
<rect x="399.5" y="40" width="54.5" height="69" fill="url(#bgR)"/>
<linearGradient id="edgeR" x1="0" y1="0" x2="1" y2="0"><stop offset="0" stop-color="#3a3032" stop-opacity="0.95"/><stop offset="0.12" stop-color="#5a4a4c" stop-opacity="0.8"/><stop offset="0.35" stop-color="#8a8486" stop-opacity="0.45"/><stop offset="1" stop-color="#a09a9c" stop-opacity="0"/></linearGradient>
<rect x="399.4" y="40" width="14" height="69" fill="url(#edgeR)"/>
<rect x="399.4" y="40" width="3" height="69" fill="#4e3434" opacity="0.85"/>
<linearGradient id="botR" x1="0" y1="0" x2="0" y2="1"><stop offset="0" stop-color="#9a9a9e" stop-opacity="0"/><stop offset="1" stop-color="#9a9a9e" stop-opacity="0.35"/></linearGradient>
<rect x="399.4" y="90" width="54.6" height="19" fill="url(#botR)"/>
<path d="M408.75 42.5 Q406.38 42.5 405.39 43.89 Q404.39 45.28 404.76 46.67 Q405.12 48.06 405.18 49.44 Q405.24 50.83 405.46 52.22 Q405.68 53.61 405.42 55 Q405.17 56.39 405.21 57.78 Q405.25 59.17 405.01 60.56 Q404.78 61.94 405.22 63.33 Q405.66 64.72 406.12 66.11 Q406.57 67.5 409.25 67.5 Q411.93 67.5 412.33 66.11 Q412.73 64.72 413.11 63.33 Q413.5 61.94 413.21 60.56 Q412.92 59.17 412.9 57.78 Q412.88 56.39 412.58 55 Q412.27 53.61 412.43 52.22 Q412.6 50.83 412.6 49.44 Q412.6 48.06 412.91 46.67 Q413.22 45.28 412.17 43.89 Q411.12 42.5 408.75 42.5Z" fill="#c04848" opacity="0.6" filter="url(#b1)"/>
<path d="M409.05 43 Q408.14 43 407.3 44.25 Q406.46 45.5 406.77 46.75 Q407.09 48 407.14 49.25 Q407.19 50.5 407.38 51.75 Q407.58 53 407.37 54.25 Q407.16 55.5 407.19 56.75 Q407.23 58 407.03 59.25 Q406.84 60.5 407.22 61.75 Q407.6 63 407.99 64.25 Q408.38 65.5 409.55 65.5 Q410.72 65.5 411.06 64.25 Q411.39 63 411.72 61.75 Q412.04 60.5 411.79 59.25 Q411.54 58 411.52 56.75 Q411.5 55.5 411.23 54.25 Q410.97 53 411.1 51.75 Q411.24 50.5 411.24 49.25 Q411.23 48 411.49 46.75 Q411.75 45.5 410.86 44.25 Q409.96 43 409.05 43Z" fill="url(#thrR)" filter="url(#b06)"/>
<path d="M409.35 44.5 Q408.92 44.5 408.54 45.44 Q408.16 46.39 408.32 47.33 Q408.49 48.28 408.53 49.22 Q408.56 50.17 408.67 51.11 Q408.77 52.06 408.69 53 Q408.61 53.94 408.64 54.89 Q408.67 55.83 408.59 56.78 Q408.51 57.72 408.71 58.67 Q408.9 59.61 409.1 60.56 Q409.3 61.5 409.85 61.5 Q410.4 61.5 410.54 60.56 Q410.69 59.61 410.83 58.67 Q410.96 57.72 410.83 56.78 Q410.7 55.83 410.67 54.89 Q410.65 53.94 410.51 53 Q410.37 52.06 410.42 51.11 Q410.47 50.17 410.45 49.22 Q410.44 48.28 410.54 47.33 Q410.65 46.39 410.21 45.44 Q409.78 44.5 409.35 44.5Z" fill="#1e0306" opacity="0.75" filter="url(#b06)"/>
<circle cx="409.01" cy="50.51" r="0.58" fill="#d84838" opacity="0.7" filter="url(#b06)"/>
<circle cx="408.09" cy="60.82" r="0.93" fill="#b02828" opacity="0.7" filter="url(#b06)"/>
<circle cx="409.86" cy="63.19" r="0.77" fill="#b02828" opacity="0.7" filter="url(#b06)"/>
<circle cx="409.6" cy="52.24" r="0.69" fill="#e86a50" opacity="0.7" filter="url(#b06)"/>
<circle cx="410.81" cy="53.32" r="0.93" fill="#d84838" opacity="0.7" filter="url(#b06)"/>
<ellipse cx="409.2" cy="64.5" rx="2.33" ry="2.2" fill="#c8302a" opacity="0.85" filter="url(#b06)"/>
<circle cx="406.3" cy="52" r="0.7" fill="#fff0ec" opacity="0.85" filter="url(#b06)"/>
<circle cx="406.2" cy="57" r="0.7" fill="#ffe8e4" opacity="0.85" filter="url(#b06)"/>
<circle cx="406.6" cy="61" r="0.6" fill="#fff0ec" opacity="0.85" filter="url(#b06)"/>
<circle cx="407" cy="48" r="0.5" fill="#ffb0a8" opacity="0.85" filter="url(#b06)"/>
<path d="M431.4 41.5 Q427.49 41.5 426.69 42.96 Q425.89 44.42 426.58 45.88 Q427.28 47.34 428.01 48.81 Q428.74 50.27 428.55 51.73 Q428.35 53.19 428.14 54.65 Q427.93 56.11 427.91 57.57 Q427.88 59.03 427.89 60.49 Q427.89 61.96 427.71 63.42 Q427.52 64.88 428.16 66.34 Q428.8 67.8 432.2 67.8 Q435.6 67.8 436.15 66.34 Q436.71 64.88 436.43 63.42 Q436.15 61.96 436.07 60.49 Q435.99 59.03 435.87 57.57 Q435.76 56.11 435.46 54.65 Q435.16 53.19 434.88 51.73 Q434.59 50.27 435.24 48.81 Q435.88 47.34 436.49 45.88 Q437.09 44.42 436.2 42.96 Q435.31 41.5 431.4 41.5Z" fill="#c04848" opacity="0.6" filter="url(#b1)"/>
<path d="M431.7 42 Q429.48 42 428.81 43.32 Q428.13 44.64 428.73 45.97 Q429.33 47.29 429.96 48.61 Q430.58 49.93 430.43 51.26 Q430.27 52.58 430.1 53.9 Q429.92 55.22 429.91 56.54 Q429.89 57.87 429.91 59.19 Q429.92 60.51 429.76 61.83 Q429.61 63.16 430.16 64.48 Q430.72 65.8 432.5 65.8 Q434.28 65.8 434.75 64.48 Q435.21 63.16 434.97 61.83 Q434.73 60.51 434.65 59.19 Q434.57 57.87 434.47 56.54 Q434.36 55.22 434.1 53.9 Q433.84 52.58 433.6 51.26 Q433.35 49.93 433.89 48.61 Q434.43 47.29 434.94 45.97 Q435.45 44.64 434.68 43.32 Q433.92 42 431.7 42Z" fill="url(#thrR)" filter="url(#b06)"/>
<path d="M432 43.5 Q430.96 43.5 430.66 44.52 Q430.37 45.53 430.67 46.55 Q430.98 47.57 431.3 48.58 Q431.62 49.6 431.57 50.62 Q431.51 51.63 431.46 52.65 Q431.4 53.67 431.42 54.68 Q431.43 55.7 431.46 56.72 Q431.49 57.73 431.44 58.75 Q431.39 59.77 431.68 60.78 Q431.96 61.8 432.8 61.8 Q433.64 61.8 433.83 60.78 Q434.03 59.77 433.89 58.75 Q433.75 57.73 433.69 56.72 Q433.63 55.7 433.56 54.68 Q433.49 53.67 433.34 52.65 Q433.2 51.63 433.06 50.62 Q432.92 49.6 433.15 48.58 Q433.38 47.57 433.59 46.55 Q433.81 45.53 433.43 44.52 Q433.04 43.5 432 43.5Z" fill="#1e0306" opacity="0.75" filter="url(#b06)"/>
<circle cx="429.5" cy="63.46" r="0.86" fill="#e86a50" opacity="0.7" filter="url(#b06)"/>
<circle cx="431.13" cy="61.19" r="0.52" fill="#d84838" opacity="0.7" filter="url(#b06)"/>
<circle cx="434.35" cy="48.37" r="0.71" fill="#d84838" opacity="0.7" filter="url(#b06)"/>
<circle cx="431.49" cy="63.22" r="0.5" fill="#b02828" opacity="0.7" filter="url(#b06)"/>
<circle cx="429.28" cy="52.57" r="0.53" fill="#d84838" opacity="0.7" filter="url(#b06)"/>
<ellipse cx="432.12" cy="64.8" rx="3.23" ry="2.2" fill="#c8302a" opacity="0.85" filter="url(#b06)"/>
<circle cx="429.8" cy="53" r="0.6" fill="#ff9a90" opacity="0.85" filter="url(#b06)"/>
<circle cx="434" cy="45" r="0.7" fill="#e0b0b0" opacity="0.85" filter="url(#b06)"/>
<path d="M448.85 43.7 Q446.59 43.7 445.86 45.08 Q445.14 46.46 445.04 47.83 Q444.93 49.21 445.25 50.59 Q445.56 51.97 445.66 53.34 Q445.77 54.72 445.84 56.1 Q445.91 57.48 445.85 58.86 Q445.79 60.23 445.33 61.61 Q444.88 62.99 445.36 64.37 Q445.83 65.74 446.26 67.12 Q446.69 68.5 449.15 68.5 Q451.61 68.5 452.01 67.12 Q452.4 65.74 452.84 64.37 Q453.29 62.99 452.8 61.61 Q452.31 60.23 452.22 58.86 Q452.13 57.48 452.16 56.1 Q452.2 54.72 452.27 53.34 Q452.34 51.97 452.62 50.59 Q452.9 49.21 452.76 47.83 Q452.62 46.46 451.87 45.08 Q451.11 43.7 448.85 43.7Z" fill="#d08858" opacity="0.6" filter="url(#b1)"/>
<path d="M449.15 44.2 Q448.33 44.2 447.72 45.44 Q447.11 46.68 447.02 47.92 Q446.94 49.16 447.2 50.39 Q447.47 51.63 447.56 52.87 Q447.66 54.11 447.72 55.35 Q447.78 56.59 447.73 57.83 Q447.68 59.07 447.3 60.31 Q446.92 61.54 447.32 62.78 Q447.73 64.02 448.1 65.26 Q448.46 66.5 449.45 66.5 Q450.44 66.5 450.77 65.26 Q451.1 64.02 451.48 62.78 Q451.85 61.54 451.43 60.31 Q451.02 59.07 450.94 57.83 Q450.85 56.59 450.88 55.35 Q450.91 54.11 450.97 52.87 Q451.03 51.63 451.26 50.39 Q451.5 49.16 451.38 47.92 Q451.26 46.68 450.61 45.44 Q449.97 44.2 449.15 44.2Z" fill="url(#thrR)" filter="url(#b06)"/>
<path d="M449.45 45.7 Q449.06 45.7 448.79 46.63 Q448.51 47.57 448.48 48.5 Q448.44 49.43 448.58 50.37 Q448.71 51.3 448.77 52.23 Q448.82 53.17 448.86 54.1 Q448.89 55.03 448.88 55.97 Q448.87 56.9 448.69 57.83 Q448.52 58.77 448.72 59.7 Q448.92 60.63 449.1 61.57 Q449.29 62.5 449.75 62.5 Q450.21 62.5 450.36 61.57 Q450.51 60.63 450.68 59.7 Q450.84 58.77 450.64 57.83 Q450.43 56.9 450.39 55.97 Q450.34 55.03 450.34 54.1 Q450.35 53.17 450.37 52.23 Q450.39 51.3 450.49 50.37 Q450.59 49.43 450.52 48.5 Q450.46 47.57 450.15 46.63 Q449.84 45.7 449.45 45.7Z" fill="#1e0306" opacity="0.75" filter="url(#b06)"/>
<circle cx="450.36" cy="58.13" r="0.73" fill="#b02828" opacity="0.7" filter="url(#b06)"/>
<circle cx="449.76" cy="55.8" r="0.68" fill="#e86a50" opacity="0.7" filter="url(#b06)"/>
<circle cx="450.25" cy="60.06" r="0.52" fill="#d84838" opacity="0.7" filter="url(#b06)"/>
<circle cx="448.46" cy="64.39" r="0.57" fill="#b02828" opacity="0.7" filter="url(#b06)"/>
<circle cx="447.42" cy="48.39" r="0.61" fill="#d84838" opacity="0.7" filter="url(#b06)"/>
<ellipse cx="449.12" cy="65.5" rx="2.18" ry="2.2" fill="#e89050" opacity="0.85" filter="url(#b06)"/>
<circle cx="450" cy="58" r="0.8" fill="#ff6a40" opacity="0.85" filter="url(#b06)"/>
<path d="M412.05 84.8 Q408.99 84.8 408.44 86.15 Q407.89 87.5 407.56 88.85 Q407.22 90.2 407.32 91.55 Q407.42 92.9 407.26 94.25 Q407.09 95.6 406.93 96.95 Q406.78 98.3 406.34 99.65 Q405.9 101 405.9 102.35 Q405.89 103.7 406.15 105.05 Q406.41 106.4 409.55 106.4 Q412.69 106.4 413.26 105.05 Q413.83 103.7 414.14 102.35 Q414.45 101 414.33 99.65 Q414.2 98.3 414.35 96.95 Q414.51 95.6 414.66 94.25 Q414.8 92.9 415.22 91.55 Q415.63 90.2 415.61 88.85 Q415.58 87.5 415.35 86.15 Q415.11 84.8 412.05 84.8Z" fill="#c04848" opacity="0.6" filter="url(#b1)"/>
<path d="M412.35 85.3 Q410.85 85.3 410.36 86.49 Q409.88 87.69 409.57 88.88 Q409.25 90.08 409.32 91.27 Q409.38 92.46 409.22 93.66 Q409.05 94.85 408.89 96.04 Q408.74 97.24 408.34 98.43 Q407.95 99.62 407.92 100.82 Q407.89 102.01 408.09 103.21 Q408.29 104.4 409.85 104.4 Q411.41 104.4 411.92 103.21 Q412.43 102.01 412.72 100.82 Q413 99.62 412.92 98.43 Q412.84 97.24 412.99 96.04 Q413.15 94.85 413.3 93.66 Q413.44 92.46 413.82 91.27 Q414.2 90.08 414.2 88.88 Q414.2 87.69 414.02 86.49 Q413.85 85.3 412.35 85.3Z" fill="url(#thrR)" filter="url(#b06)"/>
<path d="M412.65 86.8 Q411.95 86.8 411.63 87.65 Q411.32 88.5 411.09 89.35 Q410.86 90.2 410.81 91.05 Q410.76 91.9 410.6 92.75 Q410.44 93.6 410.28 94.45 Q410.12 95.3 409.85 96.15 Q409.58 97 409.49 97.85 Q409.39 98.7 409.4 99.55 Q409.41 100.4 410.15 100.4 Q410.89 100.4 411.21 99.55 Q411.53 98.7 411.75 97.85 Q411.97 97 412.01 96.15 Q412.05 95.3 412.21 94.45 Q412.36 93.6 412.52 92.75 Q412.67 91.9 412.93 91.05 Q413.19 90.2 413.27 89.35 Q413.35 88.5 413.35 87.65 Q413.35 86.8 412.65 86.8Z" fill="#1e0306" opacity="0.75" filter="url(#b06)"/>
<circle cx="409.51" cy="101.85" r="0.78" fill="#e86a50" opacity="0.7" filter="url(#b06)"/>
<circle cx="410.76" cy="101.49" r="0.61" fill="#e86a50" opacity="0.7" filter="url(#b06)"/>
<circle cx="410.38" cy="96.77" r="0.96" fill="#d84838" opacity="0.7" filter="url(#b06)"/>
<circle cx="409.21" cy="98.98" r="0.99" fill="#b02828" opacity="0.7" filter="url(#b06)"/>
<circle cx="409.34" cy="94.89" r="0.67" fill="#e86a50" opacity="0.7" filter="url(#b06)"/>
<ellipse cx="409.8" cy="103.4" rx="2.23" ry="2.2" fill="#c8302a" opacity="0.85" filter="url(#b06)"/>
<circle cx="408.8" cy="92" r="0.6" fill="#fff0ec" opacity="0.85" filter="url(#b06)"/>
<circle cx="408.4" cy="97" r="0.6" fill="#ffe8e0" opacity="0.85" filter="url(#b06)"/>
<circle cx="408.3" cy="101" r="0.5" fill="#ffb0a8" opacity="0.85" filter="url(#b06)"/>
<path d="M428.05 86.5 Q424.44 86.5 423.64 88.05 Q422.83 89.6 422.66 91.15 Q422.48 92.7 422.47 94.25 Q422.45 95.8 422.69 97.35 Q422.93 98.9 423.2 100.45 Q423.47 102 427.55 102 Q431.63 102 432 100.45 Q432.37 98.9 432.71 97.35 Q433.05 95.8 433.13 94.25 Q433.22 92.7 433.14 91.15 Q433.07 89.6 432.36 88.05 Q431.66 86.5 428.05 86.5Z" fill="#d08858" opacity="0.6" filter="url(#b1)"/>
<path d="M428.35 87 Q426.39 87 425.7 88.3 Q425.01 89.6 424.85 90.9 Q424.69 92.2 424.67 93.5 Q424.65 94.8 424.85 96.1 Q425.05 97.4 425.27 98.7 Q425.49 100 427.85 100 Q430.21 100 430.53 98.7 Q430.85 97.4 431.15 96.1 Q431.45 94.8 431.53 93.5 Q431.61 92.2 431.55 90.9 Q431.49 89.6 430.9 88.3 Q430.31 87 428.35 87Z" fill="url(#thrR)" filter="url(#b06)"/>
<path d="M428.65 88.5 Q427.73 88.5 427.37 89.25 Q427.02 90 426.92 90.75 Q426.82 91.5 426.79 92.25 Q426.75 93 426.82 93.75 Q426.88 94.5 426.96 95.25 Q427.04 96 428.15 96 Q429.26 96 429.44 95.25 Q429.62 94.5 429.78 93.75 Q429.95 93 430.01 92.25 Q430.08 91.5 430.08 90.75 Q430.08 90 429.83 89.25 Q429.57 88.5 428.65 88.5Z" fill="#1e0306" opacity="0.75" filter="url(#b06)"/>
<circle cx="430" cy="89.81" r="0.57" fill="#b02828" opacity="0.7" filter="url(#b06)"/>
<circle cx="425.75" cy="92.11" r="0.59" fill="#d84838" opacity="0.7" filter="url(#b06)"/>
<circle cx="428.88" cy="92.64" r="0.98" fill="#b02828" opacity="0.7" filter="url(#b06)"/>
<circle cx="427.24" cy="93.95" r="0.75" fill="#e86a50" opacity="0.7" filter="url(#b06)"/>
<circle cx="427.45" cy="96.63" r="0.77" fill="#b02828" opacity="0.7" filter="url(#b06)"/>
<ellipse cx="427.6" cy="99" rx="3.05" ry="2.2" fill="#eea070" opacity="0.85" filter="url(#b06)"/>
<path d="M447.55 87.5 Q444.19 87.5 443.53 88.79 Q442.88 90.08 442.99 91.38 Q443.1 92.67 443.36 93.96 Q443.61 95.25 443.59 96.54 Q443.57 97.83 443.43 99.12 Q443.29 100.42 443.73 101.71 Q444.18 103 447.05 103 Q449.92 103 450.45 101.71 Q450.98 100.42 450.92 99.12 Q450.87 97.83 450.93 96.54 Q450.99 95.25 451.33 93.96 Q451.67 92.67 451.86 91.38 Q452.06 90.08 451.49 88.79 Q450.91 87.5 447.55 87.5Z" fill="#d08858" opacity="0.6" filter="url(#b1)"/>
<path d="M447.85 88 Q446.1 88 445.53 89.08 Q444.97 90.17 445.06 91.25 Q445.14 92.33 445.36 93.42 Q445.57 94.5 445.55 95.58 Q445.52 96.67 445.39 97.75 Q445.27 98.83 445.64 99.92 Q446.01 101 447.35 101 Q448.69 101 449.14 99.92 Q449.6 98.83 449.56 97.75 Q449.51 96.67 449.57 95.58 Q449.63 94.5 449.92 93.42 Q450.22 92.33 450.39 91.25 Q450.56 90.17 450.08 89.08 Q449.6 88 447.85 88Z" fill="url(#thrR)" filter="url(#b06)"/>
<path d="M448.15 89.5 Q447.32 89.5 447.04 90.12 Q446.75 90.75 446.77 91.38 Q446.79 92 446.87 92.62 Q446.95 93.25 446.91 93.88 Q446.88 94.5 446.8 95.12 Q446.71 95.75 446.87 96.38 Q447.02 97 447.65 97 Q448.28 97 448.52 96.38 Q448.75 95.75 448.75 95.12 Q448.76 94.5 448.81 93.88 Q448.85 93.25 449.02 92.62 Q449.18 92 449.28 91.38 Q449.38 90.75 449.18 90.12 Q448.98 89.5 448.15 89.5Z" fill="#1e0306" opacity="0.75" filter="url(#b06)"/>
<circle cx="447.54" cy="100.31" r="0.74" fill="#b02828" opacity="0.7" filter="url(#b06)"/>
<circle cx="447.47" cy="93.09" r="0.97" fill="#b02828" opacity="0.7" filter="url(#b06)"/>
<circle cx="446.81" cy="92.33" r="0.53" fill="#b02828" opacity="0.7" filter="url(#b06)"/>
<circle cx="447.59" cy="92.6" r="0.51" fill="#b02828" opacity="0.7" filter="url(#b06)"/>
<circle cx="449" cy="92.11" r="0.78" fill="#e86a50" opacity="0.7" filter="url(#b06)"/>
<ellipse cx="447.1" cy="100" rx="2.47" ry="2.2" fill="#eea070" opacity="0.85" filter="url(#b06)"/>
<rect x="127.4" y="359.5" width="29" height="68.5" fill="#bcbcbc"/>
<rect x="127.4" y="359.5" width="9" height="68.5" fill="#c4c4c4"/>
<rect x="156" y="359.5" width="2.2" height="68.5" fill="#cfcbc3"/>
<line x1="137.2" y1="361.8" x2="155.5" y2="361.8" stroke="#4d4d4d" stroke-width="0.9"/>
<line x1="143" y1="364.75" x2="155.5" y2="364.75" stroke="#4d4d4d" stroke-width="0.9"/>
<line x1="143" y1="367.7" x2="155.5" y2="367.7" stroke="#4d4d4d" stroke-width="0.9"/>
<line x1="143" y1="370.65" x2="155.5" y2="370.65" stroke="#4d4d4d" stroke-width="0.9"/>
<line x1="143" y1="373.6" x2="155.5" y2="373.6" stroke="#4d4d4d" stroke-width="0.9"/>
<line x1="140.5" y1="376.55" x2="155.5" y2="376.55" stroke="#4d4d4d" stroke-width="0.9"/>
<line x1="143" y1="379.5" x2="155.5" y2="379.5" stroke="#4d4d4d" stroke-width="0.9"/>
<line x1="143" y1="382.45" x2="155.5" y2="382.45" stroke="#4d4d4d" stroke-width="0.9"/>
<line x1="143" y1="385.4" x2="155.5" y2="385.4" stroke="#4d4d4d" stroke-width="0.9"/>
<line x1="143" y1="388.35" x2="155.5" y2="388.35" stroke="#4d4d4d" stroke-width="0.9"/>
<line x1="137.2" y1="391.3" x2="155.5" y2="391.3" stroke="#4d4d4d" stroke-width="0.9"/>
<line x1="143" y1="394.25" x2="155.5" y2="394.25" stroke="#4d4d4d" stroke-width="0.9"/>
<line x1="143" y1="397.2" x2="155.5" y2="397.2" stroke="#4d4d4d" stroke-width="0.9"/>
<line x1="143" y1="400.15" x2="155.5" y2="400.15" stroke="#4d4d4d" stroke-width="0.9"/>
<line x1="143" y1="403.1" x2="155.5" y2="403.1" stroke="#4d4d4d" stroke-width="0.9"/>
<line x1="140.5" y1="406.05" x2="155.5" y2="406.05" stroke="#4d4d4d" stroke-width="0.9"/>
<line x1="143" y1="409" x2="155.5" y2="409" stroke="#4d4d4d" stroke-width="0.9"/>
<line x1="143" y1="411.95" x2="155.5" y2="411.95" stroke="#4d4d4d" stroke-width="0.9"/>
<line x1="143" y1="414.9" x2="155.5" y2="414.9" stroke="#4d4d4d" stroke-width="0.9"/>
<line x1="143" y1="417.85" x2="155.5" y2="417.85" stroke="#4d4d4d" stroke-width="0.9"/>
<line x1="137.2" y1="420.8" x2="155.5" y2="420.8" stroke="#4d4d4d" stroke-width="0.9"/>
<line x1="143" y1="423.75" x2="155.5" y2="423.75" stroke="#4d4d4d" stroke-width="0.9"/>
<line x1="143" y1="426.7" x2="155.5" y2="426.7" stroke="#4d4d4d" stroke-width="0.9"/>
<text x="0" y="0" font-size="10" text-anchor="middle" fill="#222" transform="translate(128.3 361.8) rotate(90)" stroke="#222" stroke-width="0.22">5</text>
<text x="0" y="0" font-size="10" text-anchor="middle" fill="#222" transform="translate(128.3 391.3) rotate(90)" stroke="#222" stroke-width="0.22">6</text>
<text x="0" y="0" font-size="10" text-anchor="middle" fill="#222" transform="translate(128.3 420.8) rotate(90)" stroke="#222" stroke-width="0.22">7</text>
<text x="142.6" y="380.6" font-size="7.5" text-anchor="middle" fill="#c8406c" textLength="12" lengthAdjust="spacingAndGlyphs" stroke="#c8406c" stroke-width="0.22">Cre</text>
<text x="139.2" y="417.3" font-size="7.5" text-anchor="middle" fill="#c8406c" textLength="25.5" lengthAdjust="spacingAndGlyphs" stroke="#c8406c" stroke-width="0.22">Zsgreen</text>
<rect x="158.2" y="359.5" width="62.4" height="68.5" fill="url(#bgV)"/>
<path d="M168.21 381.41 Q165.65 381.41 165.48 382.65 Q165.31 383.88 165.1 385.12 Q164.9 386.36 165.29 387.59 Q165.68 388.83 166.08 390.06 Q166.48 391.3 168.03 391.3 Q169.58 391.3 170.03 390.06 Q170.47 388.83 170.91 387.59 Q171.34 386.36 171.18 385.12 Q171.02 383.88 170.9 382.65 Q170.77 381.41 168.21 381.41Z" fill="#b09284" filter="url(#b06)"/>
<path d="M168.61 384.41 Q167.29 384.41 167.1 385.12 Q166.91 385.83 166.89 386.55 Q166.87 387.26 167.01 387.97 Q167.16 388.68 167.35 389.39 Q167.55 390.1 168.43 390.1 Q169.31 390.1 169.55 389.39 Q169.8 388.68 169.98 387.97 Q170.17 387.26 170.19 386.55 Q170.22 385.83 170.07 385.12 Q169.93 384.41 168.61 384.41Z" fill="#d8c4b8" opacity="0.8" filter="url(#b06)"/>
<path d="M168.6 362.6 Q166.44 362.6 165.86 364.03 Q165.27 365.45 165.17 366.88 Q165.07 368.3 165.44 369.73 Q165.81 371.15 165.85 372.58 Q165.89 374.01 165.82 375.43 Q165.75 376.86 165.79 378.28 Q165.83 379.71 165.65 381.13 Q165.46 382.56 165.47 383.99 Q165.48 385.41 168 385.41 Q170.52 385.41 170.6 383.99 Q170.69 382.56 170.58 381.13 Q170.47 379.71 170.58 378.28 Q170.7 376.86 170.71 375.43 Q170.71 374.01 170.83 372.58 Q170.94 371.15 171.39 369.73 Q171.83 368.3 171.81 366.88 Q171.78 365.45 171.27 364.03 Q170.76 362.6 168.6 362.6Z" fill="#46302f" filter="url(#b06)"/>
<path d="M168.1 364.1 Q167.11 364.1 166.85 365.31 Q166.59 366.51 166.59 367.72 Q166.6 368.93 166.65 370.13 Q166.71 371.34 166.71 372.55 Q166.72 373.76 166.68 374.96 Q166.65 376.17 166.56 377.38 Q166.48 378.58 166.44 379.79 Q166.41 381 166.41 382.21 Q166.42 383.41 167.5 383.41 Q168.58 383.41 168.66 382.21 Q168.75 381 168.78 379.79 Q168.82 378.58 168.81 377.38 Q168.81 376.17 168.84 374.96 Q168.88 373.76 168.96 372.55 Q169.04 371.34 169.17 370.13 Q169.3 368.93 169.38 367.72 Q169.47 366.51 169.28 365.31 Q169.09 364.1 168.1 364.1Z" fill="#1e1214" opacity="0.7" filter="url(#b06)"/>
<ellipse cx="169.66" cy="369.33" rx="0.8" ry="1.8" fill="#8a6a62" opacity="0.8" filter="url(#b06)"/>
<ellipse cx="169.2" cy="371.34" rx="0.8" ry="1.8" fill="#8a6a62" opacity="0.8" filter="url(#b06)"/>
<ellipse cx="169.49" cy="373.37" rx="0.8" ry="1.8" fill="#8a6a62" opacity="0.8" filter="url(#b06)"/>
<path d="M192.92 383.96 Q191.53 383.96 191.42 385.03 Q191.32 386.1 191.47 387.18 Q191.62 388.25 191.84 389.33 Q192.06 390.4 193.16 390.4 Q194.26 390.4 194.4 389.33 Q194.54 388.25 194.61 387.18 Q194.68 386.1 194.5 385.03 Q194.31 383.96 192.92 383.96Z" fill="#b09284" filter="url(#b06)"/>
<path d="M193.32 386.96 Q192.55 386.96 192.54 387.33 Q192.52 387.7 192.62 388.08 Q192.71 388.45 192.86 388.83 Q193.01 389.2 193.56 389.2 Q194.11 389.2 194.18 388.83 Q194.25 388.45 194.27 388.08 Q194.28 387.7 194.19 387.33 Q194.09 386.96 193.32 386.96Z" fill="#d8c4b8" opacity="0.8" filter="url(#b06)"/>
<path d="M192.4 361.7 Q191.22 361.7 188.88 363.01 Q186.54 364.33 186.27 365.64 Q186.01 366.95 186.99 368.26 Q187.96 369.58 188.76 370.89 Q189.56 372.2 189.74 373.52 Q189.91 374.83 190.1 376.14 Q190.28 377.45 190.18 378.77 Q190.08 380.08 190.37 381.39 Q190.67 382.7 190.95 384.02 Q191.23 385.33 191.69 386.64 Q192.15 387.96 193.2 387.96 Q194.25 387.96 194.63 386.64 Q195.01 385.33 195.21 384.02 Q195.41 382.7 195.63 381.39 Q195.84 380.08 195.66 378.77 Q195.48 377.45 195.58 376.14 Q195.69 374.83 195.78 373.52 Q195.88 372.2 196.6 370.89 Q197.32 369.58 198.21 368.26 Q199.11 366.95 198.77 365.64 Q198.42 364.33 196 363.01 Q193.58 361.7 192.4 361.7Z" fill="#46302f" filter="url(#b06)"/>
<path d="M191.9 363.2 Q191.36 363.2 190.37 364.34 Q189.37 365.48 189.28 366.61 Q189.18 367.75 189.54 368.89 Q189.89 370.03 190.25 371.16 Q190.6 372.3 190.78 373.44 Q190.95 374.58 191.04 375.72 Q191.12 376.85 191.21 377.99 Q191.29 379.13 191.42 380.27 Q191.55 381.4 191.68 382.54 Q191.81 383.68 192.03 384.82 Q192.25 385.96 192.7 385.96 Q193.15 385.96 193.29 384.82 Q193.43 383.68 193.48 382.54 Q193.53 381.4 193.58 380.27 Q193.63 379.13 193.63 377.99 Q193.64 376.85 193.65 375.72 Q193.65 374.58 193.75 373.44 Q193.84 372.3 194.12 371.16 Q194.39 370.03 194.67 368.89 Q194.94 367.75 194.77 366.61 Q194.59 365.48 193.52 364.34 Q192.44 363.2 191.9 363.2Z" fill="#1e1214" opacity="0.7" filter="url(#b06)"/>
<ellipse cx="194.28" cy="377.01" rx="0.8" ry="1.8" fill="#8a6a62" opacity="0.8" filter="url(#b06)"/>
<ellipse cx="194.01" cy="374.64" rx="0.8" ry="1.8" fill="#8a6a62" opacity="0.8" filter="url(#b06)"/>
<ellipse cx="194.5" cy="372.71" rx="0.8" ry="1.8" fill="#8a6a62" opacity="0.8" filter="url(#b06)"/>
<circle cx="188.2" cy="368.5" r="1.6" fill="#2a1a1c" filter="url(#b06)"/>
<circle cx="197.6" cy="369.5" r="1.5" fill="#2a1a1c" filter="url(#b06)"/>
<circle cx="192.5" cy="362.5" r="1" fill="#2a1a1c" filter="url(#b06)"/>
<path d="M215.28 377.45 Q213.51 377.45 212.92 378.76 Q212.33 380.07 212.28 381.37 Q212.24 382.68 212.63 383.98 Q213.03 385.29 213.31 386.59 Q213.6 387.9 215.42 387.9 Q217.25 387.9 217.5 386.59 Q217.75 385.29 218.1 383.98 Q218.46 382.68 218.38 381.37 Q218.3 380.07 217.67 378.76 Q217.04 377.45 215.28 377.45Z" fill="#b09284" filter="url(#b06)"/>
<path d="M215.68 380.45 Q214.58 380.45 214.37 381.23 Q214.17 382.02 214.14 382.8 Q214.1 383.58 214.23 384.36 Q214.36 385.14 214.6 385.92 Q214.83 386.7 215.82 386.7 Q216.81 386.7 217.02 385.92 Q217.22 385.14 217.31 384.36 Q217.4 383.58 217.33 382.8 Q217.25 382.02 217.01 381.23 Q216.78 380.45 215.68 380.45Z" fill="#d8c4b8" opacity="0.8" filter="url(#b06)"/>
<path d="M214.95 366 Q213.77 366 213.12 367.29 Q212.47 368.58 212.41 369.86 Q212.35 371.15 212.32 372.44 Q212.29 373.73 212.73 375.01 Q213.17 376.3 213.29 377.59 Q213.41 378.88 213.59 380.17 Q213.77 381.45 215.45 381.45 Q217.13 381.45 217.23 380.17 Q217.32 378.88 217.36 377.59 Q217.4 376.3 217.76 375.01 Q218.11 373.73 218 372.44 Q217.88 371.15 217.74 369.86 Q217.6 368.58 216.87 367.29 Q216.13 366 214.95 366Z" fill="#46302f" filter="url(#b06)"/>
<path d="M214.45 367.5 Q213.82 367.5 213.64 368.5 Q213.45 369.49 213.45 370.49 Q213.45 371.48 213.49 372.48 Q213.53 373.48 213.62 374.47 Q213.7 375.47 213.79 376.47 Q213.88 377.46 213.96 378.46 Q214.05 379.45 214.95 379.45 Q215.85 379.45 215.85 378.46 Q215.86 377.46 215.86 376.47 Q215.86 375.47 215.87 374.47 Q215.87 373.48 215.83 372.48 Q215.79 371.48 215.7 370.49 Q215.61 369.49 215.35 368.5 Q215.08 367.5 214.45 367.5Z" fill="#1e1214" opacity="0.7" filter="url(#b06)"/>
<ellipse cx="216.59" cy="376.74" rx="0.8" ry="1.8" fill="#8a6a62" opacity="0.8" filter="url(#b06)"/>
<ellipse cx="216.8" cy="375.54" rx="0.8" ry="1.8" fill="#8a6a62" opacity="0.8" filter="url(#b06)"/>
<ellipse cx="216.54" cy="371.14" rx="0.8" ry="1.8" fill="#8a6a62" opacity="0.8" filter="url(#b06)"/>
<path d="M168.36 422.04 Q166.89 422.04 166.86 423.21 Q166.82 424.37 167.01 425.54 Q167.2 426.7 168.48 426.7 Q169.76 426.7 169.89 425.54 Q170.02 424.37 169.92 423.21 Q169.83 422.04 168.36 422.04Z" fill="#b09284" filter="url(#b06)"/>
<path d="M168.76 425.04 Q167.88 425.04 167.86 425.16 Q167.83 425.27 168.03 425.39 Q168.22 425.5 168.88 425.5 Q169.54 425.5 169.68 425.39 Q169.81 425.27 169.73 425.16 Q169.64 425.04 168.76 425.04Z" fill="#d8c4b8" opacity="0.8" filter="url(#b06)"/>
<path d="M168.1 403 Q166.45 403 165.61 404.28 Q164.76 405.56 164.61 406.84 Q164.45 408.12 164.64 409.4 Q164.84 410.68 165.26 411.96 Q165.68 413.24 165.61 414.52 Q165.54 415.8 165.25 417.08 Q164.96 418.36 165.11 419.64 Q165.27 420.92 165.65 422.2 Q166.03 423.48 166.38 424.76 Q166.73 426.04 168.5 426.04 Q170.27 426.04 170.57 424.76 Q170.88 423.48 171.22 422.2 Q171.55 420.92 171.67 419.64 Q171.78 418.36 171.44 417.08 Q171.1 415.8 170.99 414.52 Q170.87 413.24 171.25 411.96 Q171.63 410.68 171.78 409.4 Q171.93 408.12 171.73 406.84 Q171.53 405.56 170.64 404.28 Q169.75 403 168.1 403Z" fill="#46302f" filter="url(#b06)"/>
<path d="M167.6 404.5 Q166.7 404.5 166.45 405.59 Q166.2 406.67 166.14 407.76 Q166.07 408.84 166.23 409.93 Q166.38 411.01 166.45 412.1 Q166.52 413.18 166.5 414.27 Q166.47 415.36 166.45 416.44 Q166.43 417.53 166.49 418.61 Q166.56 419.7 166.67 420.78 Q166.79 421.87 167.03 422.96 Q167.28 424.04 168 424.04 Q168.72 424.04 168.92 422.96 Q169.13 421.87 169.19 420.78 Q169.26 419.7 169.28 418.61 Q169.31 417.53 169.24 416.44 Q169.17 415.36 169.11 414.27 Q169.04 413.18 169.06 412.1 Q169.08 411.01 169.2 409.93 Q169.31 408.84 169.2 407.76 Q169.08 406.67 168.79 405.59 Q168.5 404.5 167.6 404.5Z" fill="#1e1214" opacity="0.7" filter="url(#b06)"/>
<ellipse cx="169.69" cy="409.59" rx="0.8" ry="1.8" fill="#8a6a62" opacity="0.8" filter="url(#b06)"/>
<ellipse cx="169.48" cy="415.81" rx="0.8" ry="1.8" fill="#8a6a62" opacity="0.8" filter="url(#b06)"/>
<ellipse cx="169.79" cy="410.26" rx="0.8" ry="1.8" fill="#8a6a62" opacity="0.8" filter="url(#b06)"/>
<circle cx="171.5" cy="405.5" r="1.2" fill="#3a2426" filter="url(#b06)"/>
<path d="M192.05 412.25 Q189.45 412.25 189.53 413.94 Q189.62 415.64 189.75 417.33 Q189.88 419.02 190.09 420.72 Q190.31 422.41 190.46 424.11 Q190.61 425.8 192.13 425.8 Q193.66 425.8 193.79 424.11 Q193.92 422.41 194.11 420.72 Q194.3 419.02 194.41 417.33 Q194.52 415.64 194.58 413.94 Q194.64 412.25 192.05 412.25Z" fill="#b09284" filter="url(#b06)"/>
<path d="M192.45 415.25 Q191.13 415.25 191.08 416.42 Q191.04 417.59 191.1 418.76 Q191.17 419.93 191.29 421.09 Q191.41 422.26 191.59 423.43 Q191.76 424.6 192.53 424.6 Q193.31 424.6 193.46 423.43 Q193.61 422.26 193.71 421.09 Q193.81 419.93 193.85 418.76 Q193.9 417.59 193.83 416.42 Q193.77 415.25 192.45 415.25Z" fill="#d8c4b8" opacity="0.8" filter="url(#b06)"/>
<path d="M191.85 404.7 Q189.63 404.7 189.2 406.14 Q188.76 407.59 188.38 409.03 Q187.99 410.48 188.49 411.92 Q188.98 413.36 188.95 414.81 Q188.91 416.25 192.15 416.25 Q195.39 416.25 195.28 414.81 Q195.17 413.36 195.59 411.92 Q196.01 410.48 195.55 409.03 Q195.09 407.59 194.58 406.14 Q194.07 404.7 191.85 404.7Z" fill="#46302f" filter="url(#b06)"/>
<path d="M191.35 406.2 Q190.54 406.2 190.17 407.21 Q189.81 408.21 189.8 409.22 Q189.79 410.23 189.92 411.23 Q190.04 412.24 190.22 413.24 Q190.39 414.25 191.65 414.25 Q192.91 414.25 193.01 413.24 Q193.1 412.24 193.16 411.23 Q193.21 410.23 193.13 409.22 Q193.05 408.21 192.6 407.21 Q192.16 406.2 191.35 406.2Z" fill="#1e1214" opacity="0.7" filter="url(#b06)"/>
<ellipse cx="192.84" cy="412.88" rx="0.8" ry="1.8" fill="#8a6a62" opacity="0.8" filter="url(#b06)"/>
<ellipse cx="193.7" cy="406.96" rx="0.8" ry="1.8" fill="#8a6a62" opacity="0.8" filter="url(#b06)"/>
<ellipse cx="192.82" cy="407.98" rx="0.8" ry="1.8" fill="#8a6a62" opacity="0.8" filter="url(#b06)"/>
<path d="M214.05 409.99 Q211.49 409.99 211.38 411.75 Q211.28 413.52 211.38 415.28 Q211.49 417.05 211.9 418.81 Q212.32 420.57 212.6 422.34 Q212.88 424.1 214.35 424.1 Q215.82 424.1 216.03 422.34 Q216.23 420.57 216.57 418.81 Q216.91 417.05 216.94 415.28 Q216.97 413.52 216.79 411.75 Q216.61 409.99 214.05 409.99Z" fill="#b09284" filter="url(#b06)"/>
<path d="M214.45 412.99 Q213.13 412.99 213.06 414.23 Q212.99 415.47 213.08 416.71 Q213.17 417.95 213.32 419.18 Q213.47 420.42 213.72 421.66 Q213.98 422.9 214.75 422.9 Q215.52 422.9 215.7 421.66 Q215.89 420.42 215.96 419.18 Q216.03 417.95 216.05 416.71 Q216.07 415.47 215.92 414.23 Q215.77 412.99 214.45 412.99Z" fill="#d8c4b8" opacity="0.8" filter="url(#b06)"/>
<path d="M213.4 403.9 Q212.12 403.9 210.6 405.16 Q209.07 406.42 209.12 407.68 Q209.17 408.94 209.79 410.21 Q210.4 411.47 210.94 412.73 Q211.48 413.99 214.4 413.99 Q217.32 413.99 217.61 412.73 Q217.9 411.47 218.26 410.21 Q218.63 408.94 218.43 407.68 Q218.23 406.42 216.45 405.16 Q214.68 403.9 213.4 403.9Z" fill="#46302f" filter="url(#b06)"/>
<path d="M212.9 405.4 Q212.27 405.4 211.68 406.22 Q211.08 407.05 211.16 407.87 Q211.24 408.69 211.59 409.52 Q211.94 410.34 212.25 411.17 Q212.55 411.99 213.9 411.99 Q215.25 411.99 215.31 411.17 Q215.36 410.34 215.46 409.52 Q215.56 408.69 215.39 407.87 Q215.22 407.05 214.38 406.22 Q213.53 405.4 212.9 405.4Z" fill="#1e1214" opacity="0.7" filter="url(#b06)"/>
<ellipse cx="215.55" cy="410.76" rx="0.8" ry="1.8" fill="#8a6a62" opacity="0.8" filter="url(#b06)"/>
<ellipse cx="214.68" cy="410.59" rx="0.8" ry="1.8" fill="#8a6a62" opacity="0.8" filter="url(#b06)"/>
<ellipse cx="215.02" cy="408.95" rx="0.8" ry="1.8" fill="#8a6a62" opacity="0.8" filter="url(#b06)"/>
<circle cx="209.6" cy="406.5" r="1.3" fill="#2a1a1c" filter="url(#b06)"/>
<circle cx="217.5" cy="405.2" r="1.3" fill="#2a1a1c" filter="url(#b06)"/>
<rect x="0.5" y="0.5" width="519" height="455" fill="none" stroke="#646464" stroke-width="1"/>
</svg>
</body></html>
